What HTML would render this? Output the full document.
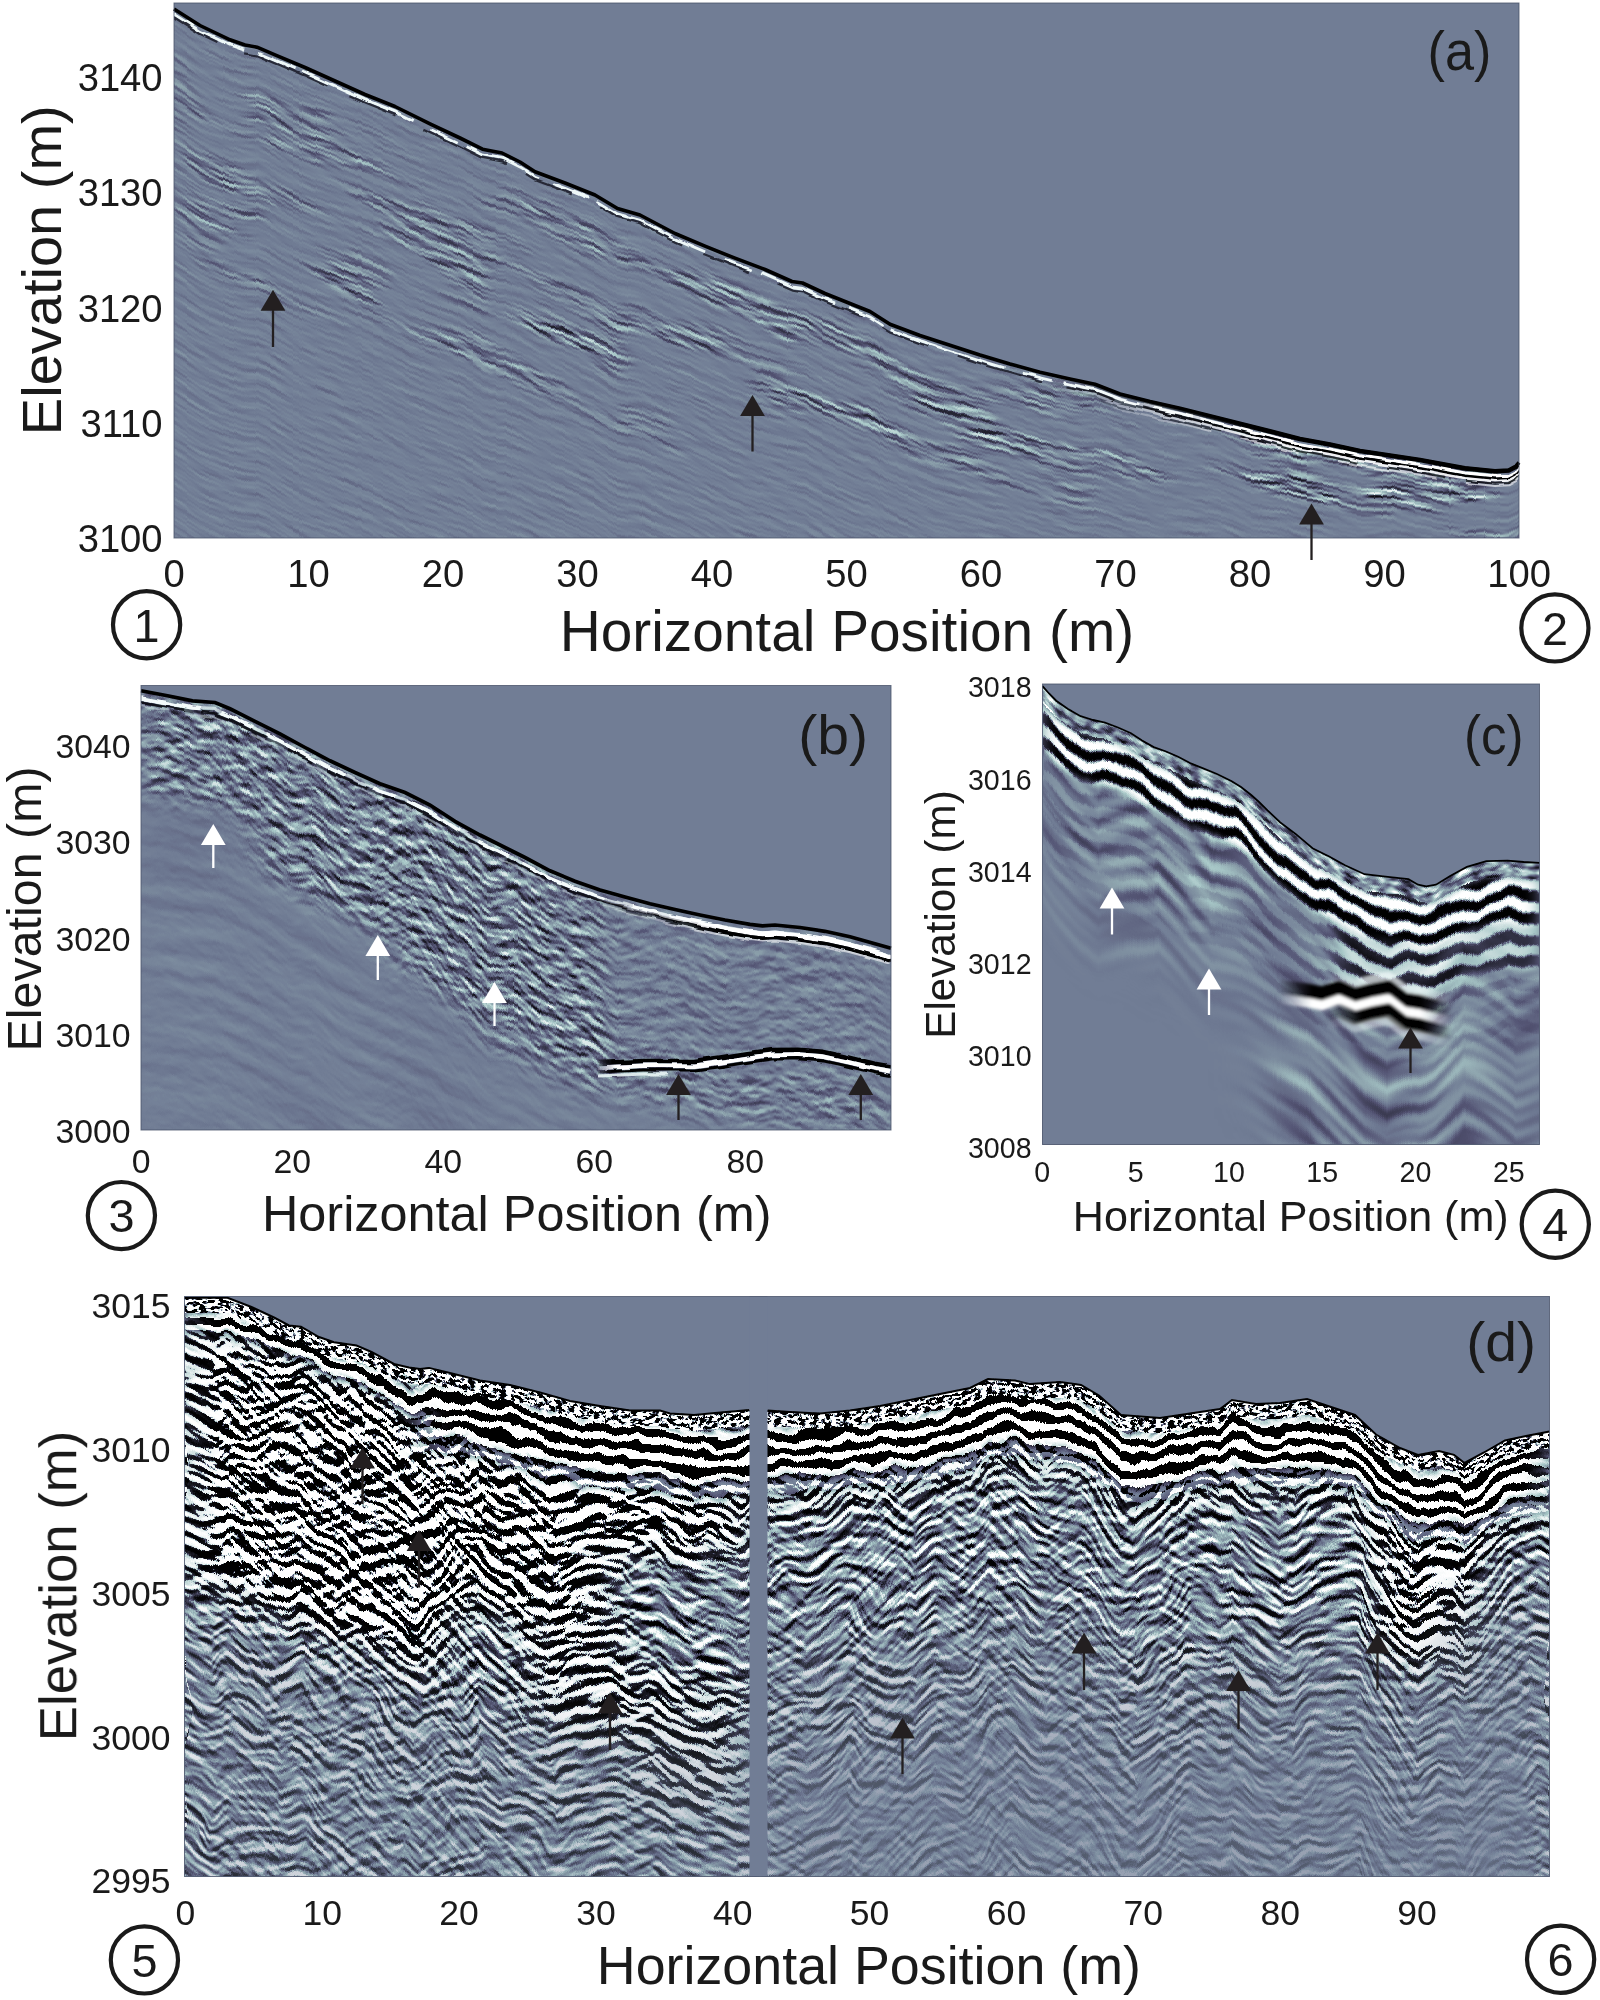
<!DOCTYPE html>
<html lang="en"><head><meta charset="utf-8"><title>GPR profiles</title>
<style>html,body{margin:0;padding:0;background:#fff}svg{display:block}text{font-family:"Liberation Sans",sans-serif;fill:#1a1a1a}</style></head><body>
<svg width="1600" height="2000" viewBox="0 0 1600 2000" role="img" aria-label="GPR profiles a-d">
<defs>
<filter id="wob" x="-2%" y="-20%" width="104%" height="140%" color-interpolation-filters="sRGB"><feTurbulence type="fractalNoise" baseFrequency="0.05 0.08" numOctaves="2" seed="2" result="n"/><feDisplacementMap in="SourceGraphic" in2="n" scale="5" xChannelSelector="R" yChannelSelector="G"/><feGaussianBlur stdDeviation="0.55"/></filter>
<linearGradient id="ga0" gradientUnits="userSpaceOnUse" x1="174.00" x2="580.25" y1="0" y2="0"><stop offset="0.00000" stop-color="rgb(131,250,36)"/><stop offset="0.06400" stop-color="rgb(87,222,72)"/><stop offset="0.08932" stop-color="rgb(70,214,86)"/><stop offset="0.13785" stop-color="rgb(133,199,113)"/><stop offset="0.17477" stop-color="rgb(182,190,133)"/><stop offset="0.20431" stop-color="rgb(221,187,150)"/><stop offset="0.22505" stop-color="rgb(248,181,162)"/><stop offset="0.24862" stop-color="rgb(187,174,175)"/><stop offset="0.27374" stop-color="rgb(122,167,189)"/><stop offset="0.30884" stop-color="rgb(31,157,164)"/><stop offset="0.32246" stop-color="rgb(45,153,155)"/><stop offset="0.39631" stop-color="rgb(123,131,103)"/><stop offset="0.45858" stop-color="rgb(188,112,59)"/><stop offset="0.47015" stop-color="rgb(172,109,51)"/><stop offset="0.50341" stop-color="rgb(126,100,28)"/><stop offset="0.54400" stop-color="rgb(69,89,70)"/><stop offset="0.57908" stop-color="rgb(21,78,106)"/><stop offset="0.63015" stop-color="rgb(106,61,159)"/><stop offset="0.67315" stop-color="rgb(177,47,204)"/><stop offset="0.70400" stop-color="rgb(228,37,182)"/><stop offset="0.70856" stop-color="rgb(236,36,179)"/><stop offset="0.75938" stop-color="rgb(136,19,144)"/><stop offset="0.80175" stop-color="rgb(53,13,115)"/><stop offset="0.80738" stop-color="rgb(64,13,111)"/><stop offset="0.82769" stop-color="rgb(103,6,97)"/><stop offset="0.85169" stop-color="rgb(149,0,80)"/><stop offset="0.88862" stop-color="rgb(219,0,55)"/><stop offset="0.88925" stop-color="rgb(220,0,54)"/><stop offset="0.96246" stop-color="rgb(146,0,4)"/><stop offset="0.96778" stop-color="rgb(140,0,0)"/><stop offset="1.00000" stop-color="rgb(107,0,46)"/></linearGradient>
<linearGradient id="ga1" gradientUnits="userSpaceOnUse" x1="440.25" x2="916.50" y1="0" y2="0"><stop offset="0.00000" stop-color="rgb(147,255,185)"/><stop offset="0.01516" stop-color="rgb(177,255,204)"/><stop offset="0.04147" stop-color="rgb(228,255,182)"/><stop offset="0.04536" stop-color="rgb(236,255,179)"/><stop offset="0.08871" stop-color="rgb(136,255,144)"/><stop offset="0.12485" stop-color="rgb(53,255,115)"/><stop offset="0.12966" stop-color="rgb(64,255,111)"/><stop offset="0.14698" stop-color="rgb(103,249,97)"/><stop offset="0.16745" stop-color="rgb(149,241,80)"/><stop offset="0.19895" stop-color="rgb(219,225,55)"/><stop offset="0.19949" stop-color="rgb(220,224,54)"/><stop offset="0.26194" stop-color="rgb(146,206,4)"/><stop offset="0.26648" stop-color="rgb(140,204,0)"/><stop offset="0.32493" stop-color="rgb(70,185,97)"/><stop offset="0.35643" stop-color="rgb(32,170,149)"/><stop offset="0.35947" stop-color="rgb(29,169,154)"/><stop offset="0.37218" stop-color="rgb(45,162,175)"/><stop offset="0.40775" stop-color="rgb(90,154,234)"/><stop offset="0.41942" stop-color="rgb(105,151,226)"/><stop offset="0.49291" stop-color="rgb(198,120,172)"/><stop offset="0.50375" stop-color="rgb(212,117,164)"/><stop offset="0.55591" stop-color="rgb(157,99,125)"/><stop offset="0.61890" stop-color="rgb(91,78,79)"/><stop offset="0.64507" stop-color="rgb(63,71,60)"/><stop offset="0.65354" stop-color="rgb(78,68,54)"/><stop offset="0.68189" stop-color="rgb(130,59,72)"/><stop offset="0.73858" stop-color="rgb(232,39,110)"/><stop offset="0.73863" stop-color="rgb(232,39,110)"/><stop offset="0.76063" stop-color="rgb(202,37,124)"/><stop offset="0.80787" stop-color="rgb(137,19,156)"/><stop offset="0.85302" stop-color="rgb(75,4,186)"/><stop offset="0.85651" stop-color="rgb(70,3,188)"/><stop offset="0.87087" stop-color="rgb(50,0,174)"/><stop offset="0.87781" stop-color="rgb(41,0,167)"/><stop offset="0.90236" stop-color="rgb(96,0,144)"/><stop offset="0.94436" stop-color="rgb(191,0,104)"/><stop offset="0.95001" stop-color="rgb(204,0,98)"/><stop offset="1.00000" stop-color="rgb(114,0,50)"/></linearGradient>
<linearGradient id="ga2" gradientUnits="userSpaceOnUse" x1="776.50" x2="1252.75" y1="0" y2="0"><stop offset="0.00000" stop-color="rgb(173,255,88)"/><stop offset="0.03255" stop-color="rgb(232,255,110)"/><stop offset="0.03259" stop-color="rgb(232,255,110)"/><stop offset="0.05459" stop-color="rgb(202,255,124)"/><stop offset="0.10184" stop-color="rgb(137,255,156)"/><stop offset="0.14698" stop-color="rgb(75,247,186)"/><stop offset="0.15048" stop-color="rgb(70,246,188)"/><stop offset="0.16483" stop-color="rgb(50,240,174)"/><stop offset="0.17178" stop-color="rgb(41,237,167)"/><stop offset="0.19633" stop-color="rgb(96,226,144)"/><stop offset="0.23832" stop-color="rgb(191,197,104)"/><stop offset="0.24398" stop-color="rgb(204,195,98)"/><stop offset="0.30131" stop-color="rgb(100,172,43)"/><stop offset="0.32257" stop-color="rgb(62,165,23)"/><stop offset="0.32900" stop-color="rgb(50,162,30)"/><stop offset="0.36430" stop-color="rgb(86,150,68)"/><stop offset="0.42730" stop-color="rgb(149,128,136)"/><stop offset="0.47698" stop-color="rgb(199,112,190)"/><stop offset="0.49029" stop-color="rgb(183,108,204)"/><stop offset="0.52291" stop-color="rgb(143,98,239)"/><stop offset="0.55328" stop-color="rgb(106,89,196)"/><stop offset="0.61627" stop-color="rgb(29,74,107)"/><stop offset="0.63304" stop-color="rgb(8,70,84)"/><stop offset="0.65982" stop-color="rgb(88,64,46)"/><stop offset="0.66877" stop-color="rgb(114,62,53)"/><stop offset="0.70178" stop-color="rgb(211,48,78)"/><stop offset="0.72126" stop-color="rgb(187,40,93)"/><stop offset="0.78425" stop-color="rgb(109,23,141)"/><stop offset="0.81640" stop-color="rgb(68,15,166)"/><stop offset="0.84724" stop-color="rgb(120,8,189)"/><stop offset="0.85302" stop-color="rgb(130,6,194)"/><stop offset="0.89466" stop-color="rgb(199,0,226)"/><stop offset="0.91024" stop-color="rgb(225,0,210)"/><stop offset="0.92398" stop-color="rgb(248,0,196)"/><stop offset="0.97323" stop-color="rgb(103,0,147)"/><stop offset="0.99873" stop-color="rgb(28,0,121)"/><stop offset="1.00000" stop-color="rgb(32,0,120)"/></linearGradient>
<linearGradient id="ga3" gradientUnits="userSpaceOnUse" x1="1112.75" x2="1519.00" y1="0" y2="0"><stop offset="0.00000" stop-color="rgb(206,255,81)"/><stop offset="0.01785" stop-color="rgb(187,255,93)"/><stop offset="0.09169" stop-color="rgb(109,255,141)"/><stop offset="0.12938" stop-color="rgb(68,255,166)"/><stop offset="0.16554" stop-color="rgb(120,247,189)"/><stop offset="0.17231" stop-color="rgb(130,245,194)"/><stop offset="0.22113" stop-color="rgb(199,226,226)"/><stop offset="0.23938" stop-color="rgb(225,219,210)"/><stop offset="0.25550" stop-color="rgb(248,213,196)"/><stop offset="0.31323" stop-color="rgb(103,191,147)"/><stop offset="0.34313" stop-color="rgb(28,180,121)"/><stop offset="0.38708" stop-color="rgb(126,163,83)"/><stop offset="0.43190" stop-color="rgb(225,145,45)"/><stop offset="0.43548" stop-color="rgb(222,144,42)"/><stop offset="0.46092" stop-color="rgb(199,134,58)"/><stop offset="0.53477" stop-color="rgb(131,113,104)"/><stop offset="0.60862" stop-color="rgb(63,89,150)"/><stop offset="0.61594" stop-color="rgb(56,87,155)"/><stop offset="0.69080" stop-color="rgb(191,70,201)"/><stop offset="0.72880" stop-color="rgb(158,61,225)"/><stop offset="0.75631" stop-color="rgb(134,55,187)"/><stop offset="0.83108" stop-color="rgb(69,34,82)"/><stop offset="0.86708" stop-color="rgb(133,24,31)"/><stop offset="0.87921" stop-color="rgb(155,22,14)"/><stop offset="0.91537" stop-color="rgb(220,17,51)"/><stop offset="0.94092" stop-color="rgb(195,13,77)"/><stop offset="0.97415" stop-color="rgb(163,16,111)"/><stop offset="0.99262" stop-color="rgb(146,31,130)"/><stop offset="1.00000" stop-color="rgb(139,44,138)"/></linearGradient>
<clipPath id="ca"><path d="M174.0 7.8 L200.0 24.3 L230.0 38.5 L245.0 43.8 L257.0 46.0 L275.0 53.5 L305.0 66.3 L335.0 79.8 L365.0 93.3 L395.0 105.3 L430.0 122.5 L460.0 136.8 L482.5 148.1 L502.0 151.8 L520.0 160.8 L535.0 170.6 L565.0 181.8 L595.0 193.8 L610.0 202.8 L617.5 207.3 L640.0 213.8 L675.0 232.3 L705.0 245.1 L735.0 257.1 L765.0 268.3 L792.0 280.3 L802.5 281.8 L825.0 292.3 L855.0 304.3 L870.0 310.3 L890.0 323.1 L920.0 334.3 L950.0 344.1 L980.0 353.8 L1010.0 362.8 L1040.0 371.1 L1070.0 377.8 L1095.0 383.1 L1120.0 392.8 L1150.0 400.3 L1180.0 407.1 L1210.0 414.6 L1240.0 422.1 L1270.0 429.6 L1300.0 437.3 L1330.0 442.8 L1360.0 449.3 L1420.0 458.3 L1465.0 466.6 L1495.0 469.6 L1508.5 468.8 L1516.0 464.8 L1519.0 461.3 L1519.0 538 L174.0 538 Z"/></clipPath><clipPath id="ca0"><rect x="174.00" y="3" width="336.25" height="535"/></clipPath><clipPath id="ca1"><rect x="510.25" y="3" width="336.25" height="535"/></clipPath><clipPath id="ca2"><rect x="846.50" y="3" width="336.25" height="535"/></clipPath><clipPath id="ca3"><rect x="1182.75" y="3" width="336.25" height="535"/></clipPath>
<filter id="fa0" filterUnits="userSpaceOnUse" primitiveUnits="userSpaceOnUse" x="174.00" y="160" width="406.25" height="679.2" color-interpolation-filters="sRGB"><feColorMatrix in="SourceGraphic" type="matrix" values="0 0 0 0 .5  1 0 0 0 0  0 0 1 0 0  0 0 0 0 1" result="mz"/><feColorMatrix in="SourceGraphic" type="matrix" values="0 0 0 0 .5  0 1 0 0 0  0 0 0 0 .5  0 0 0 0 1" result="mf"/><feTurbulence type="fractalNoise" baseFrequency="0.026 0.14" numOctaves="2" seed="4"/><feColorMatrix type="matrix" values="1 0 0 0 0 1 0 0 0 0 1 0 0 0 0 0 0 0 0 1" result="t2"/><feDisplacementMap in="t2" in2="mz" scale="7" xChannelSelector="R" yChannelSelector="G" result="z1"/><feConvolveMatrix in="z1" order="1 3" kernelMatrix="-2.4 0 2.4" divisor="1" bias="0.5" preserveAlpha="true" edgeMode="duplicate" result="gA0"/><feTurbulence type="fractalNoise" baseFrequency="0.008 0.03" numOctaves="2" seed="40"/><feColorMatrix type="matrix" values="0 0 0 0 1 0 0 0 0 1 0 0 0 0 1 5 0 0 0 -2.25" result="patch"/><feFlood flood-color="#fff" flood-opacity="0.45" x="174.0" y="269.0" width="500.0" height="195.0" result="mA_0"/><feFlood flood-color="#fff" flood-opacity="0.5" x="674.0" y="254.0" width="400.0" height="115.0" result="mA_1"/><feFlood flood-color="#fff" flood-opacity="0.7" x="1074.0" y="244.0" width="445.0" height="70.0" result="mA_2"/><feFlood flood-color="#fff" flood-opacity="0.5" x="1324.0" y="239.0" width="195.0" height="40.0" result="mA_3"/><feFlood flood-color="#fff" flood-opacity="0.8" x="200.0" y="461.4" width="60.0" height="18.0" result="mA_4"/><feFlood flood-color="#fff" flood-opacity="0.8" x="260.0" y="454.3" width="60.0" height="18.0" result="mA_5"/><feFlood flood-color="#fff" flood-opacity="0.8" x="320.0" y="438.4" width="60.0" height="18.0" result="mA_6"/><feFlood flood-color="#fff" flood-opacity="0.8" x="380.0" y="424.3" width="60.0" height="18.0" result="mA_7"/><feFlood flood-color="#fff" flood-opacity="0.8" x="440.0" y="405.3" width="60.0" height="18.0" result="mA_8"/><feFlood flood-color="#fff" flood-opacity="0.8" x="500.0" y="391.4" width="60.0" height="18.0" result="mA_9"/><feFlood flood-color="#fff" flood-opacity="0.8" x="560.0" y="380.2" width="60.0" height="18.0" result="mA_10"/><feFlood flood-color="#fff" flood-opacity="0.8" x="620.0" y="364.9" width="60.0" height="18.0" result="mA_11"/><feFlood flood-color="#fff" flood-opacity="0.8" x="680.0" y="352.5" width="60.0" height="18.0" result="mA_12"/><feFlood flood-color="#fff" flood-opacity="0.8" x="740.0" y="344.4" width="60.0" height="18.0" result="mA_13"/><feFlood flood-color="#fff" flood-opacity="0.8" x="800.0" y="333.7" width="60.0" height="18.0" result="mA_14"/><feFlood flood-color="#fff" flood-opacity="0.8" x="860.0" y="316.9" width="60.0" height="18.0" result="mA_15"/><feFlood flood-color="#fff" flood-opacity="0.8" x="920.0" y="305.4" width="60.0" height="18.0" result="mA_16"/><feFlood flood-color="#fff" flood-opacity="0.8" x="980.0" y="296.4" width="60.0" height="18.0" result="mA_17"/><feFlood flood-color="#fff" flood-opacity="0.8" x="1040.0" y="291.9" width="60.0" height="18.0" result="mA_18"/><feFlood flood-color="#fff" flood-opacity="0.8" x="1100.0" y="284.9" width="60.0" height="18.0" result="mA_19"/><feFlood flood-color="#fff" flood-opacity="0.8" x="1160.0" y="282.4" width="60.0" height="18.0" result="mA_20"/><feFlood flood-color="#fff" flood-opacity="0.8" x="1220.0" y="280.9" width="60.0" height="18.0" result="mA_21"/><feFlood flood-color="#fff" flood-opacity="0.8" x="1280.0" y="282.6" width="60.0" height="18.0" result="mA_22"/><feFlood flood-color="#fff" flood-opacity="0.8" x="1340.0" y="282.3" width="60.0" height="18.0" result="mA_23"/><feFlood flood-color="#fff" flood-opacity="0.8" x="1400.0" y="282.0" width="60.0" height="18.0" result="mA_24"/><feMerge x="174" y="-231" width="1345" height="1470.2" result="mA_m"><feMergeNode in="mA_0"/><feMergeNode in="mA_1"/><feMergeNode in="mA_2"/><feMergeNode in="mA_3"/><feMergeNode in="mA_4"/><feMergeNode in="mA_5"/><feMergeNode in="mA_6"/><feMergeNode in="mA_7"/><feMergeNode in="mA_8"/><feMergeNode in="mA_9"/><feMergeNode in="mA_10"/><feMergeNode in="mA_11"/><feMergeNode in="mA_12"/><feMergeNode in="mA_13"/><feMergeNode in="mA_14"/><feMergeNode in="mA_15"/><feMergeNode in="mA_16"/><feMergeNode in="mA_17"/><feMergeNode in="mA_18"/><feMergeNode in="mA_19"/><feMergeNode in="mA_20"/><feMergeNode in="mA_21"/><feMergeNode in="mA_22"/><feMergeNode in="mA_23"/><feMergeNode in="mA_24"/></feMerge><feGaussianBlur in="mA_m" stdDeviation="30 9" x="174" y="-231" width="1345" height="1470.2" result="mA"/><feComposite in="gA0" in2="mA" operator="in" result="gA1"/><feComposite in="gA1" in2="patch" operator="in" result="gA"/><feConvolveMatrix in="z1" order="1 3" kernelMatrix="-0.22 0 0.22" divisor="1" bias="0.506" preserveAlpha="true" edgeMode="duplicate" result="base"/><feMerge result="gray"><feMergeNode in="base"/><feMergeNode in="gA"/></feMerge><feComponentTransfer in="gray" result="all"><feFuncR type="table" tableValues="0 .109 .219 .328 .443 .547 .656 .828 1"/><feFuncG type="table" tableValues="0 .109 .219 .328 .490 .630 .781 .891 1"/><feFuncB type="table" tableValues="0 .151 .302 .453 .584 .672 .781 .891 1"/></feComponentTransfer><feDisplacementMap in="all" in2="mf" scale="155" xChannelSelector="R" yChannelSelector="G"/></filter>
<filter id="fa1" filterUnits="userSpaceOnUse" primitiveUnits="userSpaceOnUse" x="440.25" y="14" width="476.25" height="825.2" color-interpolation-filters="sRGB"><feColorMatrix in="SourceGraphic" type="matrix" values="0 0 0 0 .5  1 0 0 0 0  0 0 1 0 0  0 0 0 0 1" result="mz"/><feColorMatrix in="SourceGraphic" type="matrix" values="0 0 0 0 .5  0 1 0 0 0  0 0 0 0 .5  0 0 0 0 1" result="mf"/><feTurbulence type="fractalNoise" baseFrequency="0.026 0.14" numOctaves="2" seed="4"/><feColorMatrix type="matrix" values="1 0 0 0 0 1 0 0 0 0 1 0 0 0 0 0 0 0 0 1" result="t2"/><feDisplacementMap in="t2" in2="mz" scale="7" xChannelSelector="R" yChannelSelector="G" result="z1"/><feConvolveMatrix in="z1" order="1 3" kernelMatrix="-2.4 0 2.4" divisor="1" bias="0.5" preserveAlpha="true" edgeMode="duplicate" result="gA0"/><feTurbulence type="fractalNoise" baseFrequency="0.008 0.03" numOctaves="2" seed="40"/><feColorMatrix type="matrix" values="0 0 0 0 1 0 0 0 0 1 0 0 0 0 1 5 0 0 0 -2.25" result="patch"/><feFlood flood-color="#fff" flood-opacity="0.45" x="174.0" y="269.0" width="500.0" height="195.0" result="mA_0"/><feFlood flood-color="#fff" flood-opacity="0.5" x="674.0" y="254.0" width="400.0" height="115.0" result="mA_1"/><feFlood flood-color="#fff" flood-opacity="0.7" x="1074.0" y="244.0" width="445.0" height="70.0" result="mA_2"/><feFlood flood-color="#fff" flood-opacity="0.5" x="1324.0" y="239.0" width="195.0" height="40.0" result="mA_3"/><feFlood flood-color="#fff" flood-opacity="0.8" x="200.0" y="461.4" width="60.0" height="18.0" result="mA_4"/><feFlood flood-color="#fff" flood-opacity="0.8" x="260.0" y="454.3" width="60.0" height="18.0" result="mA_5"/><feFlood flood-color="#fff" flood-opacity="0.8" x="320.0" y="438.4" width="60.0" height="18.0" result="mA_6"/><feFlood flood-color="#fff" flood-opacity="0.8" x="380.0" y="424.3" width="60.0" height="18.0" result="mA_7"/><feFlood flood-color="#fff" flood-opacity="0.8" x="440.0" y="405.3" width="60.0" height="18.0" result="mA_8"/><feFlood flood-color="#fff" flood-opacity="0.8" x="500.0" y="391.4" width="60.0" height="18.0" result="mA_9"/><feFlood flood-color="#fff" flood-opacity="0.8" x="560.0" y="380.2" width="60.0" height="18.0" result="mA_10"/><feFlood flood-color="#fff" flood-opacity="0.8" x="620.0" y="364.9" width="60.0" height="18.0" result="mA_11"/><feFlood flood-color="#fff" flood-opacity="0.8" x="680.0" y="352.5" width="60.0" height="18.0" result="mA_12"/><feFlood flood-color="#fff" flood-opacity="0.8" x="740.0" y="344.4" width="60.0" height="18.0" result="mA_13"/><feFlood flood-color="#fff" flood-opacity="0.8" x="800.0" y="333.7" width="60.0" height="18.0" result="mA_14"/><feFlood flood-color="#fff" flood-opacity="0.8" x="860.0" y="316.9" width="60.0" height="18.0" result="mA_15"/><feFlood flood-color="#fff" flood-opacity="0.8" x="920.0" y="305.4" width="60.0" height="18.0" result="mA_16"/><feFlood flood-color="#fff" flood-opacity="0.8" x="980.0" y="296.4" width="60.0" height="18.0" result="mA_17"/><feFlood flood-color="#fff" flood-opacity="0.8" x="1040.0" y="291.9" width="60.0" height="18.0" result="mA_18"/><feFlood flood-color="#fff" flood-opacity="0.8" x="1100.0" y="284.9" width="60.0" height="18.0" result="mA_19"/><feFlood flood-color="#fff" flood-opacity="0.8" x="1160.0" y="282.4" width="60.0" height="18.0" result="mA_20"/><feFlood flood-color="#fff" flood-opacity="0.8" x="1220.0" y="280.9" width="60.0" height="18.0" result="mA_21"/><feFlood flood-color="#fff" flood-opacity="0.8" x="1280.0" y="282.6" width="60.0" height="18.0" result="mA_22"/><feFlood flood-color="#fff" flood-opacity="0.8" x="1340.0" y="282.3" width="60.0" height="18.0" result="mA_23"/><feFlood flood-color="#fff" flood-opacity="0.8" x="1400.0" y="282.0" width="60.0" height="18.0" result="mA_24"/><feMerge x="174" y="-231" width="1345" height="1470.2" result="mA_m"><feMergeNode in="mA_0"/><feMergeNode in="mA_1"/><feMergeNode in="mA_2"/><feMergeNode in="mA_3"/><feMergeNode in="mA_4"/><feMergeNode in="mA_5"/><feMergeNode in="mA_6"/><feMergeNode in="mA_7"/><feMergeNode in="mA_8"/><feMergeNode in="mA_9"/><feMergeNode in="mA_10"/><feMergeNode in="mA_11"/><feMergeNode in="mA_12"/><feMergeNode in="mA_13"/><feMergeNode in="mA_14"/><feMergeNode in="mA_15"/><feMergeNode in="mA_16"/><feMergeNode in="mA_17"/><feMergeNode in="mA_18"/><feMergeNode in="mA_19"/><feMergeNode in="mA_20"/><feMergeNode in="mA_21"/><feMergeNode in="mA_22"/><feMergeNode in="mA_23"/><feMergeNode in="mA_24"/></feMerge><feGaussianBlur in="mA_m" stdDeviation="30 9" x="174" y="-231" width="1345" height="1470.2" result="mA"/><feComposite in="gA0" in2="mA" operator="in" result="gA1"/><feComposite in="gA1" in2="patch" operator="in" result="gA"/><feConvolveMatrix in="z1" order="1 3" kernelMatrix="-0.22 0 0.22" divisor="1" bias="0.506" preserveAlpha="true" edgeMode="duplicate" result="base"/><feMerge result="gray"><feMergeNode in="base"/><feMergeNode in="gA"/></feMerge><feComponentTransfer in="gray" result="all"><feFuncR type="table" tableValues="0 .109 .219 .328 .443 .547 .656 .828 1"/><feFuncG type="table" tableValues="0 .109 .219 .328 .490 .630 .781 .891 1"/><feFuncB type="table" tableValues="0 .151 .302 .453 .584 .672 .781 .891 1"/></feComponentTransfer><feDisplacementMap in="all" in2="mf" scale="151" xChannelSelector="R" yChannelSelector="G"/></filter>
<filter id="fa2" filterUnits="userSpaceOnUse" primitiveUnits="userSpaceOnUse" x="776.50" y="-112" width="476.25" height="951.2" color-interpolation-filters="sRGB"><feColorMatrix in="SourceGraphic" type="matrix" values="0 0 0 0 .5  1 0 0 0 0  0 0 1 0 0  0 0 0 0 1" result="mz"/><feColorMatrix in="SourceGraphic" type="matrix" values="0 0 0 0 .5  0 1 0 0 0  0 0 0 0 .5  0 0 0 0 1" result="mf"/><feTurbulence type="fractalNoise" baseFrequency="0.026 0.14" numOctaves="2" seed="4"/><feColorMatrix type="matrix" values="1 0 0 0 0 1 0 0 0 0 1 0 0 0 0 0 0 0 0 1" result="t2"/><feDisplacementMap in="t2" in2="mz" scale="7" xChannelSelector="R" yChannelSelector="G" result="z1"/><feConvolveMatrix in="z1" order="1 3" kernelMatrix="-2.4 0 2.4" divisor="1" bias="0.5" preserveAlpha="true" edgeMode="duplicate" result="gA0"/><feTurbulence type="fractalNoise" baseFrequency="0.008 0.03" numOctaves="2" seed="40"/><feColorMatrix type="matrix" values="0 0 0 0 1 0 0 0 0 1 0 0 0 0 1 5 0 0 0 -2.25" result="patch"/><feFlood flood-color="#fff" flood-opacity="0.45" x="174.0" y="269.0" width="500.0" height="195.0" result="mA_0"/><feFlood flood-color="#fff" flood-opacity="0.5" x="674.0" y="254.0" width="400.0" height="115.0" result="mA_1"/><feFlood flood-color="#fff" flood-opacity="0.7" x="1074.0" y="244.0" width="445.0" height="70.0" result="mA_2"/><feFlood flood-color="#fff" flood-opacity="0.5" x="1324.0" y="239.0" width="195.0" height="40.0" result="mA_3"/><feFlood flood-color="#fff" flood-opacity="0.8" x="200.0" y="461.4" width="60.0" height="18.0" result="mA_4"/><feFlood flood-color="#fff" flood-opacity="0.8" x="260.0" y="454.3" width="60.0" height="18.0" result="mA_5"/><feFlood flood-color="#fff" flood-opacity="0.8" x="320.0" y="438.4" width="60.0" height="18.0" result="mA_6"/><feFlood flood-color="#fff" flood-opacity="0.8" x="380.0" y="424.3" width="60.0" height="18.0" result="mA_7"/><feFlood flood-color="#fff" flood-opacity="0.8" x="440.0" y="405.3" width="60.0" height="18.0" result="mA_8"/><feFlood flood-color="#fff" flood-opacity="0.8" x="500.0" y="391.4" width="60.0" height="18.0" result="mA_9"/><feFlood flood-color="#fff" flood-opacity="0.8" x="560.0" y="380.2" width="60.0" height="18.0" result="mA_10"/><feFlood flood-color="#fff" flood-opacity="0.8" x="620.0" y="364.9" width="60.0" height="18.0" result="mA_11"/><feFlood flood-color="#fff" flood-opacity="0.8" x="680.0" y="352.5" width="60.0" height="18.0" result="mA_12"/><feFlood flood-color="#fff" flood-opacity="0.8" x="740.0" y="344.4" width="60.0" height="18.0" result="mA_13"/><feFlood flood-color="#fff" flood-opacity="0.8" x="800.0" y="333.7" width="60.0" height="18.0" result="mA_14"/><feFlood flood-color="#fff" flood-opacity="0.8" x="860.0" y="316.9" width="60.0" height="18.0" result="mA_15"/><feFlood flood-color="#fff" flood-opacity="0.8" x="920.0" y="305.4" width="60.0" height="18.0" result="mA_16"/><feFlood flood-color="#fff" flood-opacity="0.8" x="980.0" y="296.4" width="60.0" height="18.0" result="mA_17"/><feFlood flood-color="#fff" flood-opacity="0.8" x="1040.0" y="291.9" width="60.0" height="18.0" result="mA_18"/><feFlood flood-color="#fff" flood-opacity="0.8" x="1100.0" y="284.9" width="60.0" height="18.0" result="mA_19"/><feFlood flood-color="#fff" flood-opacity="0.8" x="1160.0" y="282.4" width="60.0" height="18.0" result="mA_20"/><feFlood flood-color="#fff" flood-opacity="0.8" x="1220.0" y="280.9" width="60.0" height="18.0" result="mA_21"/><feFlood flood-color="#fff" flood-opacity="0.8" x="1280.0" y="282.6" width="60.0" height="18.0" result="mA_22"/><feFlood flood-color="#fff" flood-opacity="0.8" x="1340.0" y="282.3" width="60.0" height="18.0" result="mA_23"/><feFlood flood-color="#fff" flood-opacity="0.8" x="1400.0" y="282.0" width="60.0" height="18.0" result="mA_24"/><feMerge x="174" y="-231" width="1345" height="1470.2" result="mA_m"><feMergeNode in="mA_0"/><feMergeNode in="mA_1"/><feMergeNode in="mA_2"/><feMergeNode in="mA_3"/><feMergeNode in="mA_4"/><feMergeNode in="mA_5"/><feMergeNode in="mA_6"/><feMergeNode in="mA_7"/><feMergeNode in="mA_8"/><feMergeNode in="mA_9"/><feMergeNode in="mA_10"/><feMergeNode in="mA_11"/><feMergeNode in="mA_12"/><feMergeNode in="mA_13"/><feMergeNode in="mA_14"/><feMergeNode in="mA_15"/><feMergeNode in="mA_16"/><feMergeNode in="mA_17"/><feMergeNode in="mA_18"/><feMergeNode in="mA_19"/><feMergeNode in="mA_20"/><feMergeNode in="mA_21"/><feMergeNode in="mA_22"/><feMergeNode in="mA_23"/><feMergeNode in="mA_24"/></feMerge><feGaussianBlur in="mA_m" stdDeviation="30 9" x="174" y="-231" width="1345" height="1470.2" result="mA"/><feComposite in="gA0" in2="mA" operator="in" result="gA1"/><feComposite in="gA1" in2="patch" operator="in" result="gA"/><feConvolveMatrix in="z1" order="1 3" kernelMatrix="-0.22 0 0.22" divisor="1" bias="0.506" preserveAlpha="true" edgeMode="duplicate" result="base"/><feMerge result="gray"><feMergeNode in="base"/><feMergeNode in="gA"/></feMerge><feComponentTransfer in="gray" result="all"><feFuncR type="table" tableValues="0 .109 .219 .328 .443 .547 .656 .828 1"/><feFuncG type="table" tableValues="0 .109 .219 .328 .490 .630 .781 .891 1"/><feFuncB type="table" tableValues="0 .151 .302 .453 .584 .672 .781 .891 1"/></feComponentTransfer><feDisplacementMap in="all" in2="mf" scale="113" xChannelSelector="R" yChannelSelector="G"/></filter>
<filter id="fa3" filterUnits="userSpaceOnUse" primitiveUnits="userSpaceOnUse" x="1112.75" y="-197" width="406.25" height="1036.2" color-interpolation-filters="sRGB"><feColorMatrix in="SourceGraphic" type="matrix" values="0 0 0 0 .5  1 0 0 0 0  0 0 1 0 0  0 0 0 0 1" result="mz"/><feColorMatrix in="SourceGraphic" type="matrix" values="0 0 0 0 .5  0 1 0 0 0  0 0 0 0 .5  0 0 0 0 1" result="mf"/><feTurbulence type="fractalNoise" baseFrequency="0.026 0.14" numOctaves="2" seed="4"/><feColorMatrix type="matrix" values="1 0 0 0 0 1 0 0 0 0 1 0 0 0 0 0 0 0 0 1" result="t2"/><feDisplacementMap in="t2" in2="mz" scale="7" xChannelSelector="R" yChannelSelector="G" result="z1"/><feConvolveMatrix in="z1" order="1 3" kernelMatrix="-2.4 0 2.4" divisor="1" bias="0.5" preserveAlpha="true" edgeMode="duplicate" result="gA0"/><feTurbulence type="fractalNoise" baseFrequency="0.008 0.03" numOctaves="2" seed="40"/><feColorMatrix type="matrix" values="0 0 0 0 1 0 0 0 0 1 0 0 0 0 1 5 0 0 0 -2.25" result="patch"/><feFlood flood-color="#fff" flood-opacity="0.45" x="174.0" y="269.0" width="500.0" height="195.0" result="mA_0"/><feFlood flood-color="#fff" flood-opacity="0.5" x="674.0" y="254.0" width="400.0" height="115.0" result="mA_1"/><feFlood flood-color="#fff" flood-opacity="0.7" x="1074.0" y="244.0" width="445.0" height="70.0" result="mA_2"/><feFlood flood-color="#fff" flood-opacity="0.5" x="1324.0" y="239.0" width="195.0" height="40.0" result="mA_3"/><feFlood flood-color="#fff" flood-opacity="0.8" x="200.0" y="461.4" width="60.0" height="18.0" result="mA_4"/><feFlood flood-color="#fff" flood-opacity="0.8" x="260.0" y="454.3" width="60.0" height="18.0" result="mA_5"/><feFlood flood-color="#fff" flood-opacity="0.8" x="320.0" y="438.4" width="60.0" height="18.0" result="mA_6"/><feFlood flood-color="#fff" flood-opacity="0.8" x="380.0" y="424.3" width="60.0" height="18.0" result="mA_7"/><feFlood flood-color="#fff" flood-opacity="0.8" x="440.0" y="405.3" width="60.0" height="18.0" result="mA_8"/><feFlood flood-color="#fff" flood-opacity="0.8" x="500.0" y="391.4" width="60.0" height="18.0" result="mA_9"/><feFlood flood-color="#fff" flood-opacity="0.8" x="560.0" y="380.2" width="60.0" height="18.0" result="mA_10"/><feFlood flood-color="#fff" flood-opacity="0.8" x="620.0" y="364.9" width="60.0" height="18.0" result="mA_11"/><feFlood flood-color="#fff" flood-opacity="0.8" x="680.0" y="352.5" width="60.0" height="18.0" result="mA_12"/><feFlood flood-color="#fff" flood-opacity="0.8" x="740.0" y="344.4" width="60.0" height="18.0" result="mA_13"/><feFlood flood-color="#fff" flood-opacity="0.8" x="800.0" y="333.7" width="60.0" height="18.0" result="mA_14"/><feFlood flood-color="#fff" flood-opacity="0.8" x="860.0" y="316.9" width="60.0" height="18.0" result="mA_15"/><feFlood flood-color="#fff" flood-opacity="0.8" x="920.0" y="305.4" width="60.0" height="18.0" result="mA_16"/><feFlood flood-color="#fff" flood-opacity="0.8" x="980.0" y="296.4" width="60.0" height="18.0" result="mA_17"/><feFlood flood-color="#fff" flood-opacity="0.8" x="1040.0" y="291.9" width="60.0" height="18.0" result="mA_18"/><feFlood flood-color="#fff" flood-opacity="0.8" x="1100.0" y="284.9" width="60.0" height="18.0" result="mA_19"/><feFlood flood-color="#fff" flood-opacity="0.8" x="1160.0" y="282.4" width="60.0" height="18.0" result="mA_20"/><feFlood flood-color="#fff" flood-opacity="0.8" x="1220.0" y="280.9" width="60.0" height="18.0" result="mA_21"/><feFlood flood-color="#fff" flood-opacity="0.8" x="1280.0" y="282.6" width="60.0" height="18.0" result="mA_22"/><feFlood flood-color="#fff" flood-opacity="0.8" x="1340.0" y="282.3" width="60.0" height="18.0" result="mA_23"/><feFlood flood-color="#fff" flood-opacity="0.8" x="1400.0" y="282.0" width="60.0" height="18.0" result="mA_24"/><feMerge x="174" y="-231" width="1345" height="1470.2" result="mA_m"><feMergeNode in="mA_0"/><feMergeNode in="mA_1"/><feMergeNode in="mA_2"/><feMergeNode in="mA_3"/><feMergeNode in="mA_4"/><feMergeNode in="mA_5"/><feMergeNode in="mA_6"/><feMergeNode in="mA_7"/><feMergeNode in="mA_8"/><feMergeNode in="mA_9"/><feMergeNode in="mA_10"/><feMergeNode in="mA_11"/><feMergeNode in="mA_12"/><feMergeNode in="mA_13"/><feMergeNode in="mA_14"/><feMergeNode in="mA_15"/><feMergeNode in="mA_16"/><feMergeNode in="mA_17"/><feMergeNode in="mA_18"/><feMergeNode in="mA_19"/><feMergeNode in="mA_20"/><feMergeNode in="mA_21"/><feMergeNode in="mA_22"/><feMergeNode in="mA_23"/><feMergeNode in="mA_24"/></feMerge><feGaussianBlur in="mA_m" stdDeviation="30 9" x="174" y="-231" width="1345" height="1470.2" result="mA"/><feComposite in="gA0" in2="mA" operator="in" result="gA1"/><feComposite in="gA1" in2="patch" operator="in" result="gA"/><feConvolveMatrix in="z1" order="1 3" kernelMatrix="-0.22 0 0.22" divisor="1" bias="0.506" preserveAlpha="true" edgeMode="duplicate" result="base"/><feMerge result="gray"><feMergeNode in="base"/><feMergeNode in="gA"/></feMerge><feComponentTransfer in="gray" result="all"><feFuncR type="table" tableValues="0 .109 .219 .328 .443 .547 .656 .828 1"/><feFuncG type="table" tableValues="0 .109 .219 .328 .490 .630 .781 .891 1"/><feFuncB type="table" tableValues="0 .151 .302 .453 .584 .672 .781 .891 1"/></feComponentTransfer><feDisplacementMap in="all" in2="mf" scale="68" xChannelSelector="R" yChannelSelector="G"/></filter>
<linearGradient id="ak" gradientUnits="userSpaceOnUse" x1="1040" x2="1260" y1="0" y2="0"><stop offset="0" stop-color="#000" stop-opacity="0"/><stop offset="1" stop-color="#000"/></linearGradient>
<linearGradient id="aw" gradientUnits="userSpaceOnUse" x1="1040" x2="1260" y1="0" y2="0"><stop offset="0" stop-color="#fff" stop-opacity="0"/><stop offset="1" stop-color="#fff"/></linearGradient>
<linearGradient id="gb0" gradientUnits="userSpaceOnUse" x1="141.00" x2="586.00" y1="0" y2="0"><stop offset="0.00000" stop-color="rgb(158,250,121)"/><stop offset="0.04208" stop-color="rgb(237,245,156)"/><stop offset="0.05955" stop-color="rgb(212,243,171)"/><stop offset="0.10511" stop-color="rgb(146,237,209)"/><stop offset="0.11573" stop-color="rgb(131,235,192)"/><stop offset="0.15957" stop-color="rgb(68,233,123)"/><stop offset="0.16629" stop-color="rgb(83,233,112)"/><stop offset="0.20000" stop-color="rgb(159,223,60)"/><stop offset="0.22983" stop-color="rgb(226,213,13)"/><stop offset="0.24113" stop-color="rgb(251,210,28)"/><stop offset="0.25618" stop-color="rgb(213,204,48)"/><stop offset="0.31236" stop-color="rgb(70,186,124)"/><stop offset="0.33712" stop-color="rgb(7,176,158)"/><stop offset="0.36854" stop-color="rgb(130,165,200)"/><stop offset="0.37373" stop-color="rgb(150,163,207)"/><stop offset="0.39097" stop-color="rgb(218,157,185)"/><stop offset="0.42472" stop-color="rgb(120,145,141)"/><stop offset="0.45530" stop-color="rgb(32,135,101)"/><stop offset="0.48090" stop-color="rgb(76,127,68)"/><stop offset="0.51769" stop-color="rgb(138,116,21)"/><stop offset="0.53708" stop-color="rgb(172,110,68)"/><stop offset="0.54539" stop-color="rgb(186,108,88)"/><stop offset="0.59326" stop-color="rgb(81,97,203)"/><stop offset="0.60738" stop-color="rgb(51,92,237)"/><stop offset="0.61398" stop-color="rgb(61,90,253)"/><stop offset="0.64944" stop-color="rgb(118,78,163)"/><stop offset="0.70562" stop-color="rgb(208,54,20)"/><stop offset="0.70644" stop-color="rgb(210,53,18)"/><stop offset="0.72440" stop-color="rgb(239,47,34)"/><stop offset="0.76180" stop-color="rgb(93,33,68)"/><stop offset="0.78189" stop-color="rgb(14,26,86)"/><stop offset="0.81798" stop-color="rgb(152,14,119)"/><stop offset="0.83775" stop-color="rgb(228,7,137)"/><stop offset="0.84270" stop-color="rgb(214,6,142)"/><stop offset="0.86292" stop-color="rgb(156,0,160)"/><stop offset="0.89125" stop-color="rgb(74,0,186)"/><stop offset="0.89266" stop-color="rgb(70,0,185)"/><stop offset="0.91910" stop-color="rgb(100,0,164)"/><stop offset="0.97528" stop-color="rgb(164,0,119)"/><stop offset="1.00000" stop-color="rgb(193,0,100)"/></linearGradient>
<linearGradient id="gb1" gradientUnits="userSpaceOnUse" x1="446.00" x2="891.00" y1="0" y2="0"><stop offset="0.00000" stop-color="rgb(176,255,71)"/><stop offset="0.02022" stop-color="rgb(208,255,20)"/><stop offset="0.02104" stop-color="rgb(210,255,18)"/><stop offset="0.03900" stop-color="rgb(239,255,34)"/><stop offset="0.07640" stop-color="rgb(93,255,68)"/><stop offset="0.09650" stop-color="rgb(14,255,86)"/><stop offset="0.13258" stop-color="rgb(152,255,119)"/><stop offset="0.15236" stop-color="rgb(228,248,137)"/><stop offset="0.15730" stop-color="rgb(214,246,142)"/><stop offset="0.17753" stop-color="rgb(156,234,160)"/><stop offset="0.20586" stop-color="rgb(74,218,186)"/><stop offset="0.20727" stop-color="rgb(70,217,185)"/><stop offset="0.23371" stop-color="rgb(100,201,164)"/><stop offset="0.28989" stop-color="rgb(164,175,119)"/><stop offset="0.32075" stop-color="rgb(200,163,95)"/><stop offset="0.34607" stop-color="rgb(118,153,75)"/><stop offset="0.38264" stop-color="rgb(1,142,46)"/><stop offset="0.38426" stop-color="rgb(4,141,44)"/><stop offset="0.40225" stop-color="rgb(36,136,61)"/><stop offset="0.45843" stop-color="rgb(137,119,112)"/><stop offset="0.49620" stop-color="rgb(205,109,146)"/><stop offset="0.51461" stop-color="rgb(179,104,163)"/><stop offset="0.53915" stop-color="rgb(144,98,186)"/><stop offset="0.57079" stop-color="rgb(98,91,143)"/><stop offset="0.61677" stop-color="rgb(32,80,81)"/><stop offset="0.62697" stop-color="rgb(50,78,67)"/><stop offset="0.63429" stop-color="rgb(62,77,57)"/><stop offset="0.68315" stop-color="rgb(145,68,92)"/><stop offset="0.71124" stop-color="rgb(193,64,113)"/><stop offset="0.71502" stop-color="rgb(199,64,115)"/><stop offset="0.73933" stop-color="rgb(163,66,133)"/><stop offset="0.79551" stop-color="rgb(79,59,173)"/><stop offset="0.83150" stop-color="rgb(25,53,199)"/><stop offset="0.83398" stop-color="rgb(22,53,196)"/><stop offset="0.85169" stop-color="rgb(55,50,176)"/><stop offset="0.90787" stop-color="rgb(160,36,114)"/><stop offset="0.95494" stop-color="rgb(248,22,62)"/><stop offset="0.96404" stop-color="rgb(221,19,52)"/><stop offset="1.00000" stop-color="rgb(114,8,12)"/></linearGradient>
<clipPath id="cb"><path d="M141.0 689.5 L167.5 694.5 L192.5 699.5 L215.0 701.2 L230.0 707.5 L255.0 720.0 L280.0 732.5 L305.0 746.2 L330.0 759.5 L355.0 771.2 L380.0 782.5 L405.0 791.2 L430.0 803.8 L455.0 820.0 L480.0 833.8 L505.0 846.2 L525.0 856.2 L550.0 869.5 L575.0 880.0 L600.0 888.8 L625.0 895.8 L650.0 902.5 L675.0 908.2 L700.0 913.8 L725.0 918.8 L750.0 923.0 L762.5 924.5 L775.0 923.8 L800.0 926.2 L825.0 930.0 L850.0 935.5 L875.0 942.5 L891.0 947.0 L891.0 1130 L141.0 1130 Z"/></clipPath><clipPath id="cb0"><rect x="141.00" y="685.5" width="375.00" height="444.5"/></clipPath><clipPath id="cb1"><rect x="516.00" y="685.5" width="375.00" height="444.5"/></clipPath>
<filter id="fb0" filterUnits="userSpaceOnUse" primitiveUnits="userSpaceOnUse" x="141.00" y="732.5" width="445.00" height="596.0" color-interpolation-filters="sRGB"><feColorMatrix in="SourceGraphic" type="matrix" values="0 0 0 0 .5  1 0 0 0 0  0 0 1 0 0  0 0 0 0 1" result="mz"/><feColorMatrix in="SourceGraphic" type="matrix" values="0 0 0 0 .5  0 1 0 0 0  0 0 0 0 .5  0 0 0 0 1" result="mf"/><feTurbulence type="fractalNoise" baseFrequency="0.05 0.10" numOctaves="2" seed="2"/><feColorMatrix type="matrix" values="1 0 0 0 0 1 0 0 0 0 1 0 0 0 0 0 0 0 0 1" result="t2"/><feDisplacementMap in="t2" in2="mz" scale="12" xChannelSelector="R" yChannelSelector="G" result="z1"/><feTurbulence type="fractalNoise" baseFrequency="0.045 0.09" numOctaves="2" seed="7"/><feColorMatrix type="matrix" values="1 0 0 0 0 1 0 0 0 0 1 0 0 0 0 0 0 0 0 1" result="t2b"/><feDisplacementMap in="t2b" in2="mz" scale="36" xChannelSelector="R" yChannelSelector="B" result="z2"/><feComposite in="z1" in2="z2" operator="arithmetic" k1="0" k2="0.65" k3="0.45" k4="-0.05" result="zz"/><feConvolveMatrix in="zz" order="1 3" kernelMatrix="-3.8 0 3.8" divisor="1" bias="0.5" preserveAlpha="true" edgeMode="duplicate" result="gA0"/><feFlood flood-color="#fff" flood-opacity="0.045" x="141.0" y="818.0" width="750.0" height="460.0" result="mA_0"/><feFlood flood-color="#fff" flood-opacity="0.8" x="141.0" y="818.0" width="120.0" height="100.0" result="mA_1"/><feFlood flood-color="#fff" flood-opacity="0.8" x="261.0" y="818.0" width="140.0" height="145.0" result="mA_2"/><feFlood flood-color="#fff" flood-opacity="0.8" x="401.0" y="818.0" width="195.0" height="180.0" result="mA_3"/><feFlood flood-color="#fff" flood-opacity="0.45" x="471.0" y="908.0" width="140.0" height="115.0" result="mA_4"/><feFlood flood-color="#fff" flood-opacity="0.2" x="596.0" y="818.0" width="295.0" height="200.0" result="mA_5"/><feFlood flood-color="#fff" flood-opacity="0.25" x="581.0" y="968.0" width="310.0" height="50.0" result="mA_6"/><feMerge x="141" y="348" width="750" height="1380.5" result="mA_m"><feMergeNode in="mA_0"/><feMergeNode in="mA_1"/><feMergeNode in="mA_2"/><feMergeNode in="mA_3"/><feMergeNode in="mA_4"/><feMergeNode in="mA_5"/><feMergeNode in="mA_6"/></feMerge><feGaussianBlur in="mA_m" stdDeviation="18 12" x="141" y="348" width="750" height="1380.5" result="mA"/><feComposite in="gA0" in2="mA" operator="in" result="gA"/><feTurbulence type="fractalNoise" baseFrequency="0.008 0.085" numOctaves="1" seed="31"/><feColorMatrix type="matrix" values="0.14 0 0 0 0.434 0.14 0 0 0 0.434 0.14 0 0 0 0.434 0 0 0 0 1" result="gR"/><feFlood flood-color="#818181" result="base"/><feMerge result="gray"><feMergeNode in="gR"/><feMergeNode in="gA"/></feMerge><feComponentTransfer in="gray" result="all"><feFuncR type="table" tableValues="0 .109 .219 .328 .443 .547 .656 .828 1"/><feFuncG type="table" tableValues="0 .109 .219 .328 .490 .630 .781 .891 1"/><feFuncB type="table" tableValues="0 .151 .302 .453 .584 .672 .781 .891 1"/></feComponentTransfer><feDisplacementMap in="all" in2="mf" scale="169" xChannelSelector="R" yChannelSelector="G"/></filter>
<filter id="fb1" filterUnits="userSpaceOnUse" primitiveUnits="userSpaceOnUse" x="446.00" y="604.5" width="445.00" height="724.0" color-interpolation-filters="sRGB"><feColorMatrix in="SourceGraphic" type="matrix" values="0 0 0 0 .5  1 0 0 0 0  0 0 1 0 0  0 0 0 0 1" result="mz"/><feColorMatrix in="SourceGraphic" type="matrix" values="0 0 0 0 .5  0 1 0 0 0  0 0 0 0 .5  0 0 0 0 1" result="mf"/><feTurbulence type="fractalNoise" baseFrequency="0.05 0.10" numOctaves="2" seed="2"/><feColorMatrix type="matrix" values="1 0 0 0 0 1 0 0 0 0 1 0 0 0 0 0 0 0 0 1" result="t2"/><feDisplacementMap in="t2" in2="mz" scale="12" xChannelSelector="R" yChannelSelector="G" result="z1"/><feTurbulence type="fractalNoise" baseFrequency="0.045 0.09" numOctaves="2" seed="7"/><feColorMatrix type="matrix" values="1 0 0 0 0 1 0 0 0 0 1 0 0 0 0 0 0 0 0 1" result="t2b"/><feDisplacementMap in="t2b" in2="mz" scale="36" xChannelSelector="R" yChannelSelector="B" result="z2"/><feComposite in="z1" in2="z2" operator="arithmetic" k1="0" k2="0.65" k3="0.45" k4="-0.05" result="zz"/><feConvolveMatrix in="zz" order="1 3" kernelMatrix="-3.8 0 3.8" divisor="1" bias="0.5" preserveAlpha="true" edgeMode="duplicate" result="gA0"/><feFlood flood-color="#fff" flood-opacity="0.045" x="141.0" y="818.0" width="750.0" height="460.0" result="mA_0"/><feFlood flood-color="#fff" flood-opacity="0.8" x="141.0" y="818.0" width="120.0" height="100.0" result="mA_1"/><feFlood flood-color="#fff" flood-opacity="0.8" x="261.0" y="818.0" width="140.0" height="145.0" result="mA_2"/><feFlood flood-color="#fff" flood-opacity="0.8" x="401.0" y="818.0" width="195.0" height="180.0" result="mA_3"/><feFlood flood-color="#fff" flood-opacity="0.45" x="471.0" y="908.0" width="140.0" height="115.0" result="mA_4"/><feFlood flood-color="#fff" flood-opacity="0.2" x="596.0" y="818.0" width="295.0" height="200.0" result="mA_5"/><feFlood flood-color="#fff" flood-opacity="0.25" x="581.0" y="968.0" width="310.0" height="50.0" result="mA_6"/><feMerge x="141" y="348" width="750" height="1380.5" result="mA_m"><feMergeNode in="mA_0"/><feMergeNode in="mA_1"/><feMergeNode in="mA_2"/><feMergeNode in="mA_3"/><feMergeNode in="mA_4"/><feMergeNode in="mA_5"/><feMergeNode in="mA_6"/></feMerge><feGaussianBlur in="mA_m" stdDeviation="18 12" x="141" y="348" width="750" height="1380.5" result="mA"/><feComposite in="gA0" in2="mA" operator="in" result="gA"/><feTurbulence type="fractalNoise" baseFrequency="0.008 0.085" numOctaves="1" seed="31"/><feColorMatrix type="matrix" values="0.14 0 0 0 0.434 0.14 0 0 0 0.434 0.14 0 0 0 0.434 0 0 0 0 1" result="gR"/><feFlood flood-color="#818181" result="base"/><feMerge result="gray"><feMergeNode in="gR"/><feMergeNode in="gA"/></feMerge><feComponentTransfer in="gray" result="all"><feFuncR type="table" tableValues="0 .109 .219 .328 .443 .547 .656 .828 1"/><feFuncG type="table" tableValues="0 .109 .219 .328 .490 .630 .781 .891 1"/><feFuncB type="table" tableValues="0 .151 .302 .453 .584 .672 .781 .891 1"/></feComponentTransfer><feDisplacementMap in="all" in2="mf" scale="102" xChannelSelector="R" yChannelSelector="G"/></filter>
<linearGradient id="bk" gradientUnits="userSpaceOnUse" x1="590" x2="720" y1="0" y2="0"><stop offset="0" stop-color="#000" stop-opacity="0"/><stop offset="1" stop-color="#000"/></linearGradient>
<linearGradient id="bw" gradientUnits="userSpaceOnUse" x1="590" x2="720" y1="0" y2="0"><stop offset="0" stop-color="#fff" stop-opacity="0"/><stop offset="1" stop-color="#fff"/></linearGradient>
<linearGradient id="rk" gradientUnits="userSpaceOnUse" x1="594" x2="612" y1="0" y2="0"><stop offset="0" stop-color="#000" stop-opacity="0"/><stop offset="1" stop-color="#000"/></linearGradient>
<linearGradient id="rw" gradientUnits="userSpaceOnUse" x1="594" x2="616" y1="0" y2="0"><stop offset="0" stop-color="#fff" stop-opacity="0"/><stop offset="1" stop-color="#fff"/></linearGradient>
<linearGradient id="gc0" gradientUnits="userSpaceOnUse" x1="1042.50" x2="1539.50" y1="0" y2="0"><stop offset="0.00000" stop-color="rgb(165,251,164)"/><stop offset="0.00823" stop-color="rgb(186,245,154)"/><stop offset="0.01308" stop-color="rgb(178,242,148)"/><stop offset="0.02757" stop-color="rgb(153,233,131)"/><stop offset="0.05131" stop-color="rgb(114,223,102)"/><stop offset="0.07666" stop-color="rgb(71,214,71)"/><stop offset="0.08869" stop-color="rgb(51,212,57)"/><stop offset="0.10161" stop-color="rgb(73,209,41)"/><stop offset="0.11343" stop-color="rgb(92,208,27)"/><stop offset="0.12575" stop-color="rgb(113,206,48)"/><stop offset="0.15191" stop-color="rgb(157,200,93)"/><stop offset="0.17807" stop-color="rgb(201,193,138)"/><stop offset="0.19721" stop-color="rgb(233,185,171)"/><stop offset="0.20020" stop-color="rgb(227,184,176)"/><stop offset="0.22374" stop-color="rgb(177,176,216)"/><stop offset="0.23377" stop-color="rgb(155,174,234)"/><stop offset="0.24849" stop-color="rgb(124,171,210)"/><stop offset="0.27284" stop-color="rgb(72,164,170)"/><stop offset="0.29227" stop-color="rgb(31,158,138)"/><stop offset="0.29678" stop-color="rgb(38,156,130)"/><stop offset="0.32193" stop-color="rgb(80,150,89)"/><stop offset="0.34058" stop-color="rgb(111,145,58)"/><stop offset="0.35111" stop-color="rgb(129,143,66)"/><stop offset="0.38068" stop-color="rgb(178,134,89)"/><stop offset="0.39119" stop-color="rgb(195,130,97)"/><stop offset="0.39940" stop-color="rgb(182,127,104)"/><stop offset="0.41992" stop-color="rgb(149,117,120)"/><stop offset="0.43561" stop-color="rgb(124,108,132)"/><stop offset="0.45272" stop-color="rgb(96,98,145)"/><stop offset="0.47586" stop-color="rgb(59,85,163)"/><stop offset="0.47787" stop-color="rgb(61,84,165)"/><stop offset="0.51046" stop-color="rgb(98,68,190)"/><stop offset="0.53966" stop-color="rgb(131,53,213)"/><stop offset="0.54326" stop-color="rgb(135,51,209)"/><stop offset="0.57586" stop-color="rgb(172,42,169)"/><stop offset="0.59053" stop-color="rgb(189,37,151)"/><stop offset="0.60865" stop-color="rgb(168,31,129)"/><stop offset="0.64789" stop-color="rgb(124,19,81)"/><stop offset="0.69034" stop-color="rgb(75,17,29)"/><stop offset="0.69082" stop-color="rgb(75,16,28)"/><stop offset="0.69959" stop-color="rgb(65,16,39)"/><stop offset="0.73622" stop-color="rgb(117,13,81)"/><stop offset="0.75573" stop-color="rgb(145,7,104)"/><stop offset="0.77203" stop-color="rgb(168,4,123)"/><stop offset="0.79175" stop-color="rgb(197,7,145)"/><stop offset="0.80016" stop-color="rgb(209,10,155)"/><stop offset="0.82113" stop-color="rgb(158,17,180)"/><stop offset="0.84898" stop-color="rgb(91,27,212)"/><stop offset="0.85392" stop-color="rgb(80,28,203)"/><stop offset="0.88255" stop-color="rgb(11,34,150)"/><stop offset="0.89316" stop-color="rgb(44,35,130)"/><stop offset="0.93561" stop-color="rgb(175,36,52)"/><stop offset="0.94008" stop-color="rgb(189,36,44)"/><stop offset="0.95327" stop-color="rgb(171,35,19)"/><stop offset="0.96821" stop-color="rgb(151,34,35)"/><stop offset="1.00000" stop-color="rgb(109,34,70)"/></linearGradient>
<clipPath id="cc"><path d="M1042.5 685.6 L1049.0 693.0 L1056.2 700.2 L1068.0 708.5 L1080.6 715.7 L1093.0 719.5 L1105.0 722.2 L1118.0 727.0 L1131.0 732.7 L1142.0 740.0 L1153.7 746.6 L1166.0 751.0 L1178.1 756.3 L1190.0 762.5 L1202.5 767.7 L1217.0 773.5 L1231.7 780.7 L1241.0 786.5 L1251.2 794.5 L1259.0 801.5 L1267.5 809.9 L1280.0 821.7 L1296.2 833.9 L1312.5 847.7 L1328.7 855.8 L1345.0 864.7 L1364.5 873.7 L1385.6 876.1 L1408.4 878.6 L1418.1 884.2 L1426.2 885.9 L1436.0 884.2 L1450.6 875.3 L1466.9 866.4 L1486.4 860.7 L1507.5 860.2 L1523.7 861.5 L1539.5 862.3 L1539.5 1144.5 L1042.5 1144.5 Z"/></clipPath>
<filter id="fc0" filterUnits="userSpaceOnUse" primitiveUnits="userSpaceOnUse" x="1042.50" y="684" width="497.00" height="630.9000000000001" color-interpolation-filters="sRGB"><feColorMatrix in="SourceGraphic" type="matrix" values="0 0 0 0 .5  1 0 0 0 0  0 0 1 0 0  0 0 0 0 1" result="mz"/><feColorMatrix in="SourceGraphic" type="matrix" values="0 0 0 0 .5  0 1 0 0 0  0 0 0 0 .5  0 0 0 0 1" result="mf"/><feTurbulence type="fractalNoise" baseFrequency="0.012 0.075" numOctaves="1" seed="3"/><feColorMatrix type="matrix" values="1 0 0 0 0 1 0 0 0 0 1 0 0 0 0 0 0 0 0 1" result="t2"/><feDisplacementMap in="t2" in2="mz" scale="50" xChannelSelector="R" yChannelSelector="B" result="z2"/><feColorMatrix in="z2" type="matrix" values="1.7 0 0 0 -0.335 1.7 0 0 0 -0.335 1.7 0 0 0 -0.335 0 0 0 0 1" result="gA0"/><feFlood flood-color="#fff" flood-opacity="0.55" x="1042.5" y="786.0" width="497.0" height="150.0" result="mA_0"/><feFlood flood-color="#fff" flood-opacity="0.5" x="1272.5" y="936.0" width="267.0" height="180.0" result="mA_1"/><feFlood flood-color="#fff" flood-opacity="0.2" x="1042.5" y="936.0" width="230.0" height="80.0" result="mA_2"/><feMerge x="1042.5" y="316" width="497.0" height="1398.9" result="mA_m"><feMergeNode in="mA_0"/><feMergeNode in="mA_1"/><feMergeNode in="mA_2"/></feMerge><feGaussianBlur in="mA_m" stdDeviation="28 24" x="1042.5" y="316" width="497.0" height="1398.9" result="mA"/><feComposite in="gA0" in2="mA" operator="in" result="gA"/><feFlood flood-color="#fff" flood-opacity="1" x="1042.5" y="804.0" width="497.0" height="22.5" result="stw"/><feFlood flood-color="#000" flood-opacity="1" x="1042.5" y="815.0" width="497.0" height="11.5" result="stb"/><feMerge x="1042.5" y="804.0" width="497.0" height="22.5" result="stt"><feMergeNode in="stw"/><feMergeNode in="stb"/></feMerge><feTile in="stt" x="1042.5" y="316" width="497.0" height="1398.9" result="st"/><feGaussianBlur in="st" stdDeviation="0 1.0" result="stb"/><feDisplacementMap in="stb" in2="mz" scale="16" xChannelSelector="R" yChannelSelector="G" result="stz"/><feTurbulence type="fractalNoise" baseFrequency="0.03 0.015" numOctaves="2" seed="21" result="w1"/><feDisplacementMap in="stz" in2="w1" scale="16" xChannelSelector="R" yChannelSelector="G" result="stw"/><feFlood flood-color="#fff" flood-opacity="1" x="1042.5" y="803.0" width="497.0" height="45.5" result="mC_0"/><feFlood flood-color="#fff" flood-opacity="0.14" x="1042.5" y="848.5" width="497.0" height="23.5" result="mC_1"/><feFlood flood-color="#fff" flood-opacity="0.12" x="1042.5" y="872.0" width="497.0" height="46.0" result="mC_2"/><feFlood flood-color="#fff" flood-opacity="0.06" x="1042.5" y="918.0" width="497.0" height="48.0" result="mC_3"/><feFlood flood-color="#fff" flood-opacity="0.55" x="1342.5" y="848.5" width="197.0" height="45.5" result="mC_4"/><feFlood flood-color="#fff" flood-opacity="0.3" x="1332.5" y="848.5" width="120.0" height="62.5" result="mC_5"/><feMerge x="1042.5" y="316" width="497.0" height="1398.9" result="mC_m"><feMergeNode in="mC_0"/><feMergeNode in="mC_1"/><feMergeNode in="mC_2"/><feMergeNode in="mC_3"/><feMergeNode in="mC_4"/><feMergeNode in="mC_5"/></feMerge><feGaussianBlur in="mC_m" stdDeviation="8 3" x="1042.5" y="316" width="497.0" height="1398.9" result="mC"/><feComposite in="stw" in2="mC" operator="in" result="gC"/><feTurbulence type="fractalNoise" baseFrequency="0.07 0.16" numOctaves="2" seed="8"/><feColorMatrix type="matrix" values="1.5 0 0 0 -0.19 1.5 0 0 0 -0.19 1.5 0 0 0 -0.19 0 0 0 0 1" result="g3"/><feFlood flood-color="#fff" flood-opacity="1" x="1042.5" y="783.0" width="497.0" height="20.0" result="sz"/><feComposite in="g3" in2="sz" operator="in" result="gD"/><feFlood flood-color="#808080" result="base"/><feMerge result="gray"><feMergeNode in="base"/><feMergeNode in="gA"/><feMergeNode in="gC"/><feMergeNode in="gD"/></feMerge><feComponentTransfer in="gray" result="all"><feFuncR type="table" tableValues="0 .109 .219 .328 .443 .547 .656 .828 1"/><feFuncG type="table" tableValues="0 .109 .219 .328 .490 .630 .781 .891 1"/><feFuncB type="table" tableValues="0 .151 .302 .453 .584 .672 .781 .891 1"/></feComponentTransfer><feDisplacementMap in="all" in2="mf" scale="207" xChannelSelector="R" yChannelSelector="G"/></filter>
<linearGradient id="ck1" gradientUnits="userSpaceOnUse" x1="1278" x2="1452" y1="0" y2="0"><stop offset="0" stop-color="#000" stop-opacity="0"/><stop offset="0.195" stop-color="#000"/><stop offset="0.816" stop-color="#000"/><stop offset="1" stop-color="#000" stop-opacity="0"/></linearGradient>
<linearGradient id="cw1" gradientUnits="userSpaceOnUse" x1="1278" x2="1452" y1="0" y2="0"><stop offset="0" stop-color="#fff" stop-opacity="0"/><stop offset="0.195" stop-color="#fff"/><stop offset="0.816" stop-color="#fff"/><stop offset="1" stop-color="#fff" stop-opacity="0"/></linearGradient>
<linearGradient id="ck2" gradientUnits="userSpaceOnUse" x1="1326" x2="1452" y1="0" y2="0"><stop offset="0" stop-color="#000" stop-opacity="0"/><stop offset="0.286" stop-color="#000"/><stop offset="0.762" stop-color="#000"/><stop offset="1" stop-color="#000" stop-opacity="0"/></linearGradient>
<linearGradient id="cw2" gradientUnits="userSpaceOnUse" x1="1326" x2="1452" y1="0" y2="0"><stop offset="0" stop-color="#f2fafa" stop-opacity="0"/><stop offset="0.310" stop-color="#f2fafa"/><stop offset="0.746" stop-color="#f2fafa"/><stop offset="1" stop-color="#f2fafa" stop-opacity="0"/></linearGradient>
<filter id="soft" x="-5%" y="-40%" width="110%" height="180%"><feGaussianBlur stdDeviation="1.7"/></filter>
<linearGradient id="gd0" gradientUnits="userSpaceOnUse" x1="184.50" x2="1549.50" y1="0" y2="0"><stop offset="0.00000" stop-color="rgb(140,250,177)"/><stop offset="0.02323" stop-color="rgb(65,250,138)"/><stop offset="0.03150" stop-color="rgb(91,250,124)"/><stop offset="0.04908" stop-color="rgb(144,236,95)"/><stop offset="0.06557" stop-color="rgb(195,221,67)"/><stop offset="0.07069" stop-color="rgb(210,215,59)"/><stop offset="0.07656" stop-color="rgb(228,209,71)"/><stop offset="0.08340" stop-color="rgb(249,208,85)"/><stop offset="0.08535" stop-color="rgb(244,207,88)"/><stop offset="0.09853" stop-color="rgb(207,192,115)"/><stop offset="0.10952" stop-color="rgb(176,184,137)"/><stop offset="0.12601" stop-color="rgb(131,179,171)"/><stop offset="0.13700" stop-color="rgb(100,170,193)"/><stop offset="0.15348" stop-color="rgb(54,152,226)"/><stop offset="0.16121" stop-color="rgb(32,148,242)"/><stop offset="0.16447" stop-color="rgb(23,147,234)"/><stop offset="0.16694" stop-color="rgb(16,146,227)"/><stop offset="0.17253" stop-color="rgb(40,144,213)"/><stop offset="0.17912" stop-color="rgb(67,146,197)"/><stop offset="0.19451" stop-color="rgb(131,139,158)"/><stop offset="0.21648" stop-color="rgb(222,128,103)"/><stop offset="0.21658" stop-color="rgb(223,127,102)"/><stop offset="0.23063" stop-color="rgb(179,123,67)"/><stop offset="0.23846" stop-color="rgb(154,121,76)"/><stop offset="0.26044" stop-color="rgb(86,110,102)"/><stop offset="0.26942" stop-color="rgb(58,105,113)"/><stop offset="0.28242" stop-color="rgb(101,97,128)"/><stop offset="0.30440" stop-color="rgb(174,90,154)"/><stop offset="0.31228" stop-color="rgb(200,87,163)"/><stop offset="0.32637" stop-color="rgb(171,83,180)"/><stop offset="0.34703" stop-color="rgb(128,83,205)"/><stop offset="0.34835" stop-color="rgb(125,83,203)"/><stop offset="0.35568" stop-color="rgb(110,79,191)"/><stop offset="0.37326" stop-color="rgb(74,76,164)"/><stop offset="0.38864" stop-color="rgb(42,79,141)"/><stop offset="0.40326" stop-color="rgb(12,82,118)"/><stop offset="0.41392" stop-color="rgb(41,84,102)"/><stop offset="0.42711" stop-color="rgb(77,83,82)"/><stop offset="0.44359" stop-color="rgb(122,81,56)"/><stop offset="0.45605" stop-color="rgb(156,80,37)"/><stop offset="0.46557" stop-color="rgb(182,79,59)"/><stop offset="0.48717" stop-color="rgb(241,83,109)"/><stop offset="0.48755" stop-color="rgb(240,83,110)"/><stop offset="0.50952" stop-color="rgb(151,90,162)"/><stop offset="0.53150" stop-color="rgb(63,99,213)"/><stop offset="0.53514" stop-color="rgb(48,100,221)"/><stop offset="0.54961" stop-color="rgb(85,106,255)"/><stop offset="0.55348" stop-color="rgb(95,107,245)"/><stop offset="0.57546" stop-color="rgb(152,116,187)"/><stop offset="0.58864" stop-color="rgb(185,130,153)"/><stop offset="0.60842" stop-color="rgb(236,128,101)"/><stop offset="0.60851" stop-color="rgb(236,127,101)"/><stop offset="0.61941" stop-color="rgb(208,122,72)"/><stop offset="0.63131" stop-color="rgb(176,124,41)"/><stop offset="0.64139" stop-color="rgb(150,125,64)"/><stop offset="0.65678" stop-color="rgb(109,121,99)"/><stop offset="0.66996" stop-color="rgb(75,105,130)"/><stop offset="0.68608" stop-color="rgb(32,76,166)"/><stop offset="0.69523" stop-color="rgb(8,75,187)"/><stop offset="0.71358" stop-color="rgb(105,72,229)"/><stop offset="0.71465" stop-color="rgb(110,72,227)"/><stop offset="0.73663" stop-color="rgb(226,79,181)"/><stop offset="0.73695" stop-color="rgb(227,79,180)"/><stop offset="0.75861" stop-color="rgb(172,85,135)"/><stop offset="0.76740" stop-color="rgb(150,99,117)"/><stop offset="0.78498" stop-color="rgb(106,93,80)"/><stop offset="0.80178" stop-color="rgb(63,94,45)"/><stop offset="0.80256" stop-color="rgb(61,94,46)"/><stop offset="0.81294" stop-color="rgb(35,97,60)"/><stop offset="0.82234" stop-color="rgb(71,100,72)"/><stop offset="0.83773" stop-color="rgb(131,90,91)"/><stop offset="0.85751" stop-color="rgb(208,76,117)"/><stop offset="0.85999" stop-color="rgb(218,72,120)"/><stop offset="0.87289" stop-color="rgb(152,47,137)"/><stop offset="0.89048" stop-color="rgb(63,27,159)"/><stop offset="0.90186" stop-color="rgb(5,19,174)"/><stop offset="0.90366" stop-color="rgb(9,17,176)"/><stop offset="0.91905" stop-color="rgb(48,23,196)"/><stop offset="0.92790" stop-color="rgb(70,18,207)"/><stop offset="0.93004" stop-color="rgb(75,17,204)"/><stop offset="0.93773" stop-color="rgb(94,5,190)"/><stop offset="0.95201" stop-color="rgb(130,21,164)"/><stop offset="0.96740" stop-color="rgb(169,39,136)"/><stop offset="0.98278" stop-color="rgb(207,45,108)"/><stop offset="0.98921" stop-color="rgb(223,48,96)"/><stop offset="1.00000" stop-color="rgb(180,52,77)"/></linearGradient>
<clipPath id="cd"><path d="M184.5 1297.2 L227.5 1297.2 L251.5 1306.5 L274.0 1317.0 L289.0 1325.0 L301.0 1326.3 L319.0 1336.5 L334.0 1341.8 L356.5 1345.0 L371.5 1351.5 L394.0 1363.5 L409.0 1367.0 L420.0 1368.6 L429.0 1367.4 L450.0 1372.5 L480.0 1380.0 L510.0 1384.5 L540.0 1392.0 L570.0 1400.4 L600.0 1405.5 L630.0 1410.0 L660.0 1410.0 L670.0 1413.0 L694.0 1414.5 L715.0 1412.4 L749.5 1409.4 L767.5 1410.0 L790.0 1411.5 L820.0 1413.0 L850.0 1410.0 L880.0 1405.5 L910.0 1399.5 L940.0 1393.5 L970.0 1387.5 L988.0 1378.5 L1015.0 1380.0 L1030.0 1383.6 L1060.0 1381.5 L1081.0 1384.5 L1099.0 1395.0 L1121.0 1414.5 L1160.0 1417.5 L1190.0 1413.0 L1220.0 1408.5 L1232.0 1399.5 L1256.0 1403.4 L1280.0 1402.5 L1307.0 1398.6 L1328.0 1405.5 L1355.0 1414.5 L1376.0 1434.0 L1400.0 1447.5 L1418.0 1454.4 L1439.0 1450.5 L1454.0 1454.4 L1464.5 1462.5 L1484.0 1452.0 L1505.0 1440.0 L1526.0 1435.5 L1549.5 1431.0 L1549.5 1876.5 L184.5 1876.5 Z"/></clipPath>
<filter id="fd0" filterUnits="userSpaceOnUse" primitiveUnits="userSpaceOnUse" x="184.50" y="1296.5" width="1365.00" height="732.8" color-interpolation-filters="sRGB"><feColorMatrix in="SourceGraphic" type="matrix" values="0 0 0 0 .5  1 0 0 0 0  0 0 1 0 0  0 0 0 0 1" result="mz"/><feColorMatrix in="SourceGraphic" type="matrix" values="0 0 0 0 .5  0 1 0 0 0  0 0 0 0 .5  0 0 0 0 1" result="mf"/><feTurbulence type="fractalNoise" baseFrequency="0.028 0.105" numOctaves="2" seed="5"/><feColorMatrix type="matrix" values="1 0 0 0 0 1 0 0 0 0 1 0 0 0 0 0 0 0 0 1" result="t2"/><feTurbulence type="fractalNoise" baseFrequency="0.03 0.115" numOctaves="2" seed="15"/><feColorMatrix type="matrix" values="1 0 0 0 0 1 0 0 0 0 1 0 0 0 0 0 0 0 0 1" result="t2b"/><feTurbulence type="fractalNoise" baseFrequency="0.02 0.012" numOctaves="2" seed="11" result="w"/><feDisplacementMap in="t2" in2="mz" scale="55" xChannelSelector="R" yChannelSelector="G" result="z1a"/><feDisplacementMap in="z1a" in2="w" scale="36" xChannelSelector="R" yChannelSelector="G" result="z1"/><feDisplacementMap in="t2b" in2="mz" scale="120" xChannelSelector="R" yChannelSelector="B" result="z2"/><feComposite in="z1" in2="z2" operator="arithmetic" k1="0" k2="0.7" k3="0.45" k4="-0.075" result="zz0"/><feConvolveMatrix in="zz0" order="1 5" kernelMatrix="-2.3 0 0 0 2.3" divisor="1" bias="0.5" preserveAlpha="true" edgeMode="duplicate" result="zz"/><feColorMatrix in="zz" type="matrix" values="1 0 0 0 0.035 1 0 0 0 0.035 1 0 0 0 0.035 0 0 0 0 1" result="gA"/><feColorMatrix in="zz" type="matrix" values="1.35 0 0 0 -0.135 1.35 0 0 0 -0.135 1.35 0 0 0 -0.135 0 0 0 0 1" result="gM0"/><feColorMatrix in="zz" type="matrix" values="10 0 0 0 -4.43 10 0 0 0 -4.43 10 0 0 0 -4.43 0 0 0 0 1" result="gB0"/><feFlood flood-color="#fff" flood-opacity="0.9" x="184.5" y="1430.0" width="565.0" height="380.0" result="mM_0"/><feFlood flood-color="#fff" flood-opacity="0.6" x="767.5" y="1430.0" width="782.0" height="180.0" result="mM_1"/><feFlood flood-color="#fff" flood-opacity="0.75" x="784.5" y="1650.0" width="160.0" height="110.0" result="mM_2"/><feFlood flood-color="#fff" flood-opacity="0.8" x="1144.5" y="1600.0" width="160.0" height="90.0" result="mM_3"/><feMerge x="184.5" y="910" width="1365.0" height="1519.3" result="mM_m"><feMergeNode in="mM_0"/><feMergeNode in="mM_1"/><feMergeNode in="mM_2"/><feMergeNode in="mM_3"/></feMerge><feGaussianBlur in="mM_m" stdDeviation="30 26" x="184.5" y="910" width="1365.0" height="1519.3" result="mM"/><feComposite in="gM0" in2="mM" operator="in" result="gM"/><feFlood flood-color="#fff" flood-opacity="1" x="184.5" y="1406.0" width="270.0" height="274.0" result="mB_0"/><feFlood flood-color="#fff" flood-opacity="1" x="434.5" y="1430.0" width="170.0" height="185.0" result="mB_1"/><feFlood flood-color="#fff" flood-opacity="1" x="604.5" y="1430.0" width="145.0" height="100.0" result="mB_2"/><feFlood flood-color="#fff" flood-opacity="0.8" x="514.5" y="1580.0" width="120.0" height="130.0" result="mB_3"/><feFlood flood-color="#fff" flood-opacity="0.7" x="634.5" y="1640.0" width="110.0" height="140.0" result="mB_4"/><feFlood flood-color="#fff" flood-opacity="1" x="767.5" y="1430.0" width="782.0" height="46.0" result="mB_5"/><feFlood flood-color="#fff" flood-opacity="1" x="1369.5" y="1470.0" width="105.0" height="125.0" result="mB_6"/><feFlood flood-color="#fff" flood-opacity="0.7" x="1224.5" y="1630.0" width="30.0" height="35.0" result="mB_7"/><feMerge x="184.5" y="910" width="1365.0" height="1519.3" result="mB_m"><feMergeNode in="mB_0"/><feMergeNode in="mB_1"/><feMergeNode in="mB_2"/><feMergeNode in="mB_3"/><feMergeNode in="mB_4"/><feMergeNode in="mB_5"/><feMergeNode in="mB_6"/><feMergeNode in="mB_7"/></feMerge><feGaussianBlur in="mB_m" stdDeviation="22 16" x="184.5" y="910" width="1365.0" height="1519.3" result="mB"/><feComposite in="gB0" in2="mB" operator="in" result="gB"/><feFlood flood-color="#fff" flood-opacity="1" x="184.5" y="1385.0" width="1365.0" height="15.4" result="stw"/><feFlood flood-color="#000" flood-opacity="1" x="184.5" y="1385.0" width="1365.0" height="7.3" result="stb"/><feMerge x="184.5" y="1385.0" width="1365.0" height="15.4" result="stt"><feMergeNode in="stw"/><feMergeNode in="stb"/></feMerge><feTile in="stt" x="184.5" y="910" width="1365.0" height="1519.3" result="st"/><feFlood flood-color="#fff" flood-opacity="1" x="424.5" y="1394.0" width="1125.0" height="52.0" result="mC_0"/><feFlood flood-color="#fff" flood-opacity="0.45" x="424.5" y="1446.0" width="1125.0" height="16.0" result="mC_1"/><feFlood flood-color="#fff" flood-opacity="1" x="184.5" y="1394.0" width="240.0" height="23.0" result="mC_2"/><feMerge x="184.5" y="910" width="1365.0" height="1519.3" result="mC_m"><feMergeNode in="mC_0"/><feMergeNode in="mC_1"/><feMergeNode in="mC_2"/></feMerge><feGaussianBlur in="mC_m" stdDeviation="14 3" x="184.5" y="910" width="1365.0" height="1519.3" result="mC"/><feComposite in="st" in2="mC" operator="in" result="stm"/><feTurbulence type="fractalNoise" baseFrequency="0.04 0.03" numOctaves="2" seed="21" result="w1"/><feDisplacementMap in="stm" in2="mz" scale="12" xChannelSelector="R" yChannelSelector="G" result="stz"/><feDisplacementMap in="stz" in2="w1" scale="18" xChannelSelector="R" yChannelSelector="G" result="gC"/><feTurbulence type="fractalNoise" baseFrequency="0.16 0.30" numOctaves="2" seed="8" result="t3"/><feColorMatrix in="t3" type="matrix" values="14 0 0 0 -6.32 14 0 0 0 -6.32 14 0 0 0 -6.32 0 0 0 0 1" result="g3"/><feFlood flood-color="#fff" flood-opacity="1" x="184.5" y="1377.0" width="1365.0" height="19.0" result="sz"/><feComposite in="g3" in2="sz" operator="in" result="gD"/><feMerge result="gray0"><feMergeNode in="gA"/><feMergeNode in="gM"/><feMergeNode in="gB"/><feMergeNode in="gC"/><feMergeNode in="gD"/></feMerge><feGaussianBlur in="gray0" stdDeviation="0.6" result="gray"/><feComponentTransfer in="gray" result="col"><feFuncR type="table" tableValues="0 .109 .219 .328 .443 .547 .656 .828 1"/><feFuncG type="table" tableValues="0 .109 .219 .328 .490 .630 .781 .891 1"/><feFuncB type="table" tableValues="0 .151 .302 .453 .584 .672 .781 .891 1"/></feComponentTransfer><feFlood flood-color="#fff" flood-opacity="0.35" x="184.5" y="1710.0" width="1365.0" height="470.0" result="fd_0"/><feFlood flood-color="#fff" flood-opacity="0.4" x="767.5" y="1620.0" width="782.0" height="560.0" result="fd_1"/><feFlood flood-color="#fff" flood-opacity="0.3" x="767.5" y="1740.0" width="782.0" height="440.0" result="fd_2"/><feFlood flood-color="#fff" flood-opacity="0.45" x="1444.5" y="1550.0" width="105.0" height="630.0" result="fd_3"/><feMerge x="184.5" y="910" width="1365.0" height="1519.3" result="fd_m"><feMergeNode in="fd_0"/><feMergeNode in="fd_1"/><feMergeNode in="fd_2"/><feMergeNode in="fd_3"/></feMerge><feGaussianBlur in="fd_m" stdDeviation="30 28" x="184.5" y="910" width="1365.0" height="1519.3" result="fd"/><feFlood flood-color="#717d95" result="midc"/><feComposite in="midc" in2="fd" operator="in" result="fade"/><feMerge result="all"><feMergeNode in="col"/><feMergeNode in="fade"/></feMerge><feDisplacementMap in="all" in2="mf" scale="172" xChannelSelector="R" yChannelSelector="G"/></filter>
</defs>
<rect width="1600" height="2000" fill="#fff"/>
<rect x="174" y="3" width="1345" height="535" fill="#717d95"/>
<g clip-path="url(#ca)"><g clip-path="url(#ca0)"><rect x="174.00" y="160" width="406.25" height="679.2" transform="translate(0 -157)" fill="url(#ga0)" filter="url(#fa0)"/></g><g clip-path="url(#ca1)"><rect x="440.25" y="14" width="476.25" height="825.2" transform="translate(0 -11)" fill="url(#ga1)" filter="url(#fa1)"/></g><g clip-path="url(#ca2)"><rect x="776.50" y="-112" width="476.25" height="951.2" transform="translate(0 115)" fill="url(#ga2)" filter="url(#fa2)"/></g><g clip-path="url(#ca3)"><rect x="1112.75" y="-197" width="406.25" height="1036.2" transform="translate(0 200)" fill="url(#ga3)" filter="url(#fa3)"/></g></g>
<g clip-path="url(#ca)"><g fill="none" filter="url(#wob)">
<path d="M174.0 14.4 L200.0 30.9 L230.0 45.1 L245.0 50.4 L257.0 52.6 L275.0 60.1 L305.0 72.9 L335.0 86.4 L365.0 99.9 L395.0 111.9 L430.0 129.2 L460.0 143.4 L482.5 154.7 L502.0 158.4 L520.0 167.4 L535.0 177.2 L565.0 188.4 L595.0 200.4 L610.0 209.4 L617.5 213.9 L640.0 220.4 L675.0 238.9 L705.0 251.7 L735.0 263.7 L765.0 274.9 L792.0 286.9 L802.5 288.4 L825.0 298.9 L855.0 310.9 L870.0 316.9 L890.0 329.7 L920.0 340.9 L950.0 350.7 L980.0 360.4 L1010.0 369.4 L1040.0 377.7 L1070.0 384.4 L1095.0 389.7 L1120.0 399.4 L1150.0 406.9 L1180.0 413.7 L1210.0 421.2 L1240.0 428.7 L1270.0 436.2 L1300.0 443.9 L1330.0 449.4 L1360.0 455.9 L1420.0 464.9 L1465.0 473.2 L1495.0 476.2 L1508.5 475.4 L1516.0 471.4 L1519.0 467.9" stroke="#eef8f8" stroke-width="2.8" stroke-dasharray="80 14 40 8 120 20 30 10"/>
<path d="M174.0 17.3 L200.0 33.8 L230.0 48.0 L245.0 53.3 L257.0 55.5 L275.0 63.0 L305.0 75.8 L335.0 89.3 L365.0 102.8 L395.0 114.8 L430.0 132.1 L460.0 146.3 L482.5 157.6 L502.0 161.3 L520.0 170.3 L535.0 180.1 L565.0 191.3 L595.0 203.3 L610.0 212.3 L617.5 216.8 L640.0 223.3 L675.0 241.8 L705.0 254.6 L735.0 266.6 L765.0 277.8 L792.0 289.8 L802.5 291.3 L825.0 301.8 L855.0 313.8 L870.0 319.8 L890.0 332.6 L920.0 343.8 L950.0 353.6 L980.0 363.3 L1010.0 372.3 L1040.0 380.6 L1070.0 387.3 L1095.0 392.6 L1120.0 402.3 L1150.0 409.8 L1180.0 416.6 L1210.0 424.1 L1240.0 431.6 L1270.0 439.1 L1300.0 446.8 L1330.0 452.3 L1360.0 458.8 L1420.0 467.8 L1465.0 476.1 L1495.0 479.1 L1508.5 478.3 L1516.0 474.3 L1519.0 470.8" stroke="#14141f" stroke-width="2.2" stroke-dasharray="50 30 90 24" opacity=".8"/>
<path d="M174.0 14.2 L200.0 30.7 L230.0 44.9 L245.0 50.2 L257.0 52.4 L275.0 59.9 L305.0 72.7 L335.0 86.2 L365.0 99.7 L395.0 111.7 L430.0 128.9 L460.0 143.2 L482.5 154.5 L502.0 158.2 L520.0 167.2 L535.0 177.0 L565.0 188.2 L595.0 200.2 L610.0 209.2 L617.5 213.7 L640.0 220.2 L675.0 238.7 L705.0 251.5 L735.0 263.4 L765.0 274.7 L792.0 286.7 L802.5 288.2 L825.0 298.7 L855.0 310.7 L870.0 316.7 L890.0 329.4 L920.0 340.7 L950.0 350.4 L980.0 360.2 L1010.0 369.2 L1040.0 377.4 L1070.0 384.2 L1095.0 389.5 L1120.0 399.2 L1150.0 406.7 L1180.0 413.4 L1210.0 420.9 L1240.0 428.4 L1270.0 435.9 L1300.0 443.7 L1330.0 449.2 L1360.0 455.7 L1420.0 464.7 L1465.0 472.9 L1495.0 475.9 L1508.5 475.2 L1516.0 471.2 L1519.0 467.7" stroke="url(#aw)" stroke-width="3"/>
<path d="M174.0 17.0 L200.0 33.5 L230.0 47.8 L245.0 53.0 L257.0 55.2 L275.0 62.8 L305.0 75.5 L335.0 89.0 L365.0 102.5 L395.0 114.5 L430.0 131.8 L460.0 146.0 L482.5 157.2 L502.0 161.0 L520.0 170.0 L535.0 179.8 L565.0 191.0 L595.0 203.0 L610.0 212.0 L617.5 216.5 L640.0 223.0 L675.0 241.5 L705.0 254.2 L735.0 266.2 L765.0 277.5 L792.0 289.5 L802.5 291.0 L825.0 301.5 L855.0 313.5 L870.0 319.5 L890.0 332.2 L920.0 343.5 L950.0 353.2 L980.0 363.0 L1010.0 372.0 L1040.0 380.2 L1070.0 387.0 L1095.0 392.3 L1120.0 402.0 L1150.0 409.5 L1180.0 416.2 L1210.0 423.8 L1240.0 431.2 L1270.0 438.8 L1300.0 446.5 L1330.0 452.0 L1360.0 458.5 L1420.0 467.5 L1465.0 475.8 L1495.0 478.8 L1508.5 478.0 L1516.0 474.0 L1519.0 470.5" stroke="url(#ak)" stroke-width="2.4"/>
<path d="M174.0 19.5 L200.0 36.0 L230.0 50.2 L245.0 55.5 L257.0 57.8 L275.0 65.2 L305.0 78.0 L335.0 91.5 L365.0 105.0 L395.0 117.0 L430.0 134.2 L460.0 148.5 L482.5 159.8 L502.0 163.5 L520.0 172.5 L535.0 182.2 L565.0 193.5 L595.0 205.5 L610.0 214.5 L617.5 219.0 L640.0 225.5 L675.0 244.0 L705.0 256.8 L735.0 268.8 L765.0 280.0 L792.0 292.0 L802.5 293.5 L825.0 304.0 L855.0 316.0 L870.0 322.0 L890.0 334.8 L920.0 346.0 L950.0 355.8 L980.0 365.5 L1010.0 374.5 L1040.0 382.8 L1070.0 389.5 L1095.0 394.8 L1120.0 404.5 L1150.0 412.0 L1180.0 418.8 L1210.0 426.2 L1240.0 433.8 L1270.0 441.2 L1300.0 449.0 L1330.0 454.5 L1360.0 461.0 L1420.0 470.0 L1465.0 478.2 L1495.0 481.2 L1508.5 480.5 L1516.0 476.5 L1519.0 473.0" stroke="url(#aw)" stroke-width="2.4" opacity=".9"/>
<path d="M174.0 21.9 L200.0 38.4 L230.0 52.6 L245.0 57.9 L257.0 60.1 L275.0 67.6 L305.0 80.4 L335.0 93.9 L365.0 107.4 L395.0 119.4 L430.0 136.7 L460.0 150.9 L482.5 162.2 L502.0 165.9 L520.0 174.9 L535.0 184.7 L565.0 195.9 L595.0 207.9 L610.0 216.9 L617.5 221.4 L640.0 227.9 L675.0 246.4 L705.0 259.2 L735.0 271.2 L765.0 282.4 L792.0 294.4 L802.5 295.9 L825.0 306.4 L855.0 318.4 L870.0 324.4 L890.0 337.2 L920.0 348.4 L950.0 358.2 L980.0 367.9 L1010.0 376.9 L1040.0 385.2 L1070.0 391.9 L1095.0 397.2 L1120.0 406.9 L1150.0 414.4 L1180.0 421.2 L1210.0 428.7 L1240.0 436.2 L1270.0 443.7 L1300.0 451.4 L1330.0 456.9 L1360.0 463.4 L1420.0 472.4 L1465.0 480.7 L1495.0 483.7 L1508.5 482.9 L1516.0 478.9 L1519.0 475.4" stroke="url(#ak)" stroke-width="2" opacity=".7" stroke-dasharray="120 30 60 20"/>
<path d="M174.0 24.2 L200.0 40.7 L230.0 54.9 L245.0 60.2 L257.0 62.4 L275.0 69.9 L305.0 82.7 L335.0 96.2 L365.0 109.7 L395.0 121.7 L430.0 138.9 L460.0 153.2 L482.5 164.5 L502.0 168.2 L520.0 177.2 L535.0 187.0 L565.0 198.2 L595.0 210.2 L610.0 219.2 L617.5 223.7 L640.0 230.2 L675.0 248.7 L705.0 261.4 L735.0 273.4 L765.0 284.7 L792.0 296.7 L802.5 298.2 L825.0 308.7 L855.0 320.7 L870.0 326.7 L890.0 339.4 L920.0 350.7 L950.0 360.4 L980.0 370.2 L1010.0 379.2 L1040.0 387.4 L1070.0 394.2 L1095.0 399.5 L1120.0 409.2 L1150.0 416.7 L1180.0 423.4 L1210.0 430.9 L1240.0 438.4 L1270.0 445.9 L1300.0 453.7 L1330.0 459.2 L1360.0 465.7 L1420.0 474.7 L1465.0 482.9 L1495.0 485.9 L1508.5 485.2 L1516.0 481.2 L1519.0 477.7" stroke="url(#aw)" stroke-width="2" opacity=".6" stroke-dasharray="60 40 100 30"/>
</g>
<path d="M174.0 9.4 L200.0 25.9 L230.0 40.1 L245.0 45.4 L257.0 47.6 L275.0 55.1 L305.0 67.9 L335.0 81.4 L365.0 94.9 L395.0 106.9 L430.0 124.1 L460.0 138.4 L482.5 149.7 L502.0 153.4 L520.0 162.4 L535.0 172.2 L565.0 183.4 L595.0 195.4 L610.0 204.4 L617.5 208.9 L640.0 215.4 L675.0 233.9 L705.0 246.7 L735.0 258.7 L765.0 269.9 L792.0 281.9 L802.5 283.4 L825.0 293.9 L855.0 305.9 L870.0 311.9 L890.0 324.7 L920.0 335.9 L950.0 345.7 L980.0 355.4 L1010.0 364.4 L1040.0 372.7 L1070.0 379.4 L1095.0 384.7 L1120.0 394.4 L1150.0 401.9 L1180.0 408.7 L1210.0 416.2 L1240.0 423.7 L1270.0 431.2 L1300.0 438.9 L1330.0 444.4 L1360.0 450.9 L1420.0 459.9 L1465.0 468.2 L1495.0 471.2 L1508.5 470.4 L1516.0 466.4 L1519.0 462.9" fill="none" stroke="url(#ak)" stroke-width="5"/>
</g>
<path d="M174.0 9.0 L200.0 25.5 L230.0 39.8 L245.0 45.0 L257.0 47.2 L275.0 54.8 L305.0 67.5 L335.0 81.0 L365.0 94.5 L395.0 106.5 L430.0 123.8 L460.0 138.0 L482.5 149.2 L502.0 153.0 L520.0 162.0 L535.0 171.8 L565.0 183.0 L595.0 195.0 L610.0 204.0 L617.5 208.5 L640.0 215.0 L675.0 233.5 L705.0 246.2 L735.0 258.2 L765.0 269.5 L792.0 281.5 L802.5 283.0 L825.0 293.5 L855.0 305.5 L870.0 311.5 L890.0 324.2 L920.0 335.5 L950.0 345.2 L980.0 355.0 L1010.0 364.0 L1040.0 372.2 L1070.0 379.0 L1095.0 384.3 L1120.0 394.0 L1150.0 401.5 L1180.0 408.2 L1210.0 415.8 L1240.0 423.2 L1270.0 430.8 L1300.0 438.5 L1330.0 444.0 L1360.0 450.5 L1420.0 459.5 L1465.0 467.8 L1495.0 470.8 L1508.5 470.0 L1516.0 466.0 L1519.0 462.5" fill="none" stroke="#000" stroke-width="3.6" stroke-linejoin="round"/>
<rect x="141" y="685.5" width="750" height="444.5" fill="#717d95"/>
<g clip-path="url(#cb)"><g clip-path="url(#cb0)"><rect x="141.00" y="732.5" width="445.00" height="596.0" transform="translate(0 -47)" fill="url(#gb0)" filter="url(#fb0)"/></g><g clip-path="url(#cb1)"><rect x="446.00" y="604.5" width="445.00" height="724.0" transform="translate(0 81)" fill="url(#gb1)" filter="url(#fb1)"/></g></g>
<g clip-path="url(#cb)"><g fill="none" filter="url(#wob)">
<path d="M141.0 697.8 L167.5 702.8 L192.5 707.8 L215.0 709.5 L230.0 715.8 L255.0 728.3 L280.0 740.8 L305.0 754.5 L330.0 767.8 L355.0 779.5 L380.0 790.8 L405.0 799.5 L430.0 812.0 L455.0 828.3 L480.0 842.0 L505.0 854.5 L525.0 864.5 L550.0 877.8 L575.0 888.3 L600.0 897.0 L625.0 904.0 L650.0 910.8 L675.0 916.5 L700.0 922.0 L725.0 927.0 L750.0 931.3 L762.5 932.8 L775.0 932.0 L800.0 934.5 L825.0 938.3 L850.0 943.8 L875.0 950.8 L891.0 955.3" stroke="#e4f2f2" stroke-width="2.8" opacity=".7"/>
<path d="M141.0 698.0 L167.5 703.0 L192.5 708.0 L215.0 709.8 L230.0 716.0 L255.0 728.5 L280.0 741.0 L305.0 754.8 L330.0 768.0 L355.0 779.8 L380.0 791.0 L405.0 799.8 L430.0 812.2 L455.0 828.5 L480.0 842.2 L505.0 854.8 L525.0 864.8 L550.0 878.0 L575.0 888.5 L600.0 897.2 L625.0 904.2 L650.0 911.0 L675.0 916.8 L700.0 922.2 L725.0 927.2 L750.0 931.5 L762.5 933.0 L775.0 932.2 L800.0 934.8 L825.0 938.5 L850.0 944.0 L875.0 951.0 L891.0 955.5" stroke="#f4fbfb" stroke-width="3.4" stroke-dasharray="60 22 34 15 90 30 25 12"/>
<path d="M141.0 701.4 L167.5 706.4 L192.5 711.4 L215.0 713.1 L230.0 719.4 L255.0 731.9 L280.0 744.4 L305.0 758.1 L330.0 771.4 L355.0 783.1 L380.0 794.4 L405.0 803.1 L430.0 815.6 L455.0 831.9 L480.0 845.6 L505.0 858.1 L525.0 868.1 L550.0 881.4 L575.0 891.9 L600.0 900.6 L625.0 907.6 L650.0 914.4 L675.0 920.1 L700.0 925.6 L725.0 930.6 L750.0 934.9 L762.5 936.4 L775.0 935.6 L800.0 938.1 L825.0 941.9 L850.0 947.4 L875.0 954.4 L891.0 958.9" stroke="#14141f" stroke-width="2.2" opacity=".55"/>
<path d="M141.0 701.5 L167.5 706.5 L192.5 711.5 L215.0 713.2 L230.0 719.5 L255.0 732.0 L280.0 744.5 L305.0 758.2 L330.0 771.5 L355.0 783.2 L380.0 794.5 L405.0 803.2 L430.0 815.8 L455.0 832.0 L480.0 845.8 L505.0 858.2 L525.0 868.2 L550.0 881.5 L575.0 892.0 L600.0 900.8 L625.0 907.8 L650.0 914.5 L675.0 920.2 L700.0 925.8 L725.0 930.8 L750.0 935.0 L762.5 936.5 L775.0 935.8 L800.0 938.2 L825.0 942.0 L850.0 947.5 L875.0 954.5 L891.0 959.0" stroke="#0a0a12" stroke-width="2.6" stroke-dasharray="44 17 70 24 30 16" opacity=".85"/>
<path d="M141.0 705.0 L167.5 710.0 L192.5 715.0 L215.0 716.8 L230.0 723.0 L255.0 735.5 L280.0 748.0 L305.0 761.8 L330.0 775.0 L355.0 786.8 L380.0 798.0 L405.0 806.8 L430.0 819.2 L455.0 835.5 L480.0 849.2 L505.0 861.8 L525.0 871.8 L550.0 885.0 L575.0 895.5 L600.0 904.2 L625.0 911.2 L650.0 918.0 L675.0 923.8 L700.0 929.2 L725.0 934.2 L750.0 938.5 L762.5 940.0 L775.0 939.2 L800.0 941.8 L825.0 945.5 L850.0 951.0 L875.0 958.0 L891.0 962.5" stroke="#cfe2e4" stroke-width="2" stroke-dasharray="30 14 52 20" opacity=".5"/>
<path d="M141.0 699.1 L167.5 704.1 L192.5 709.1 L215.0 710.9 L230.0 717.1 L255.0 729.6 L280.0 742.1 L305.0 755.9 L330.0 769.1 L355.0 780.9 L380.0 792.1 L405.0 800.9 L430.0 813.4 L455.0 829.6 L480.0 843.4 L505.0 855.9 L525.0 865.9 L550.0 879.1 L575.0 889.6 L600.0 898.4 L625.0 905.4 L650.0 912.1 L675.0 917.9 L700.0 923.4 L725.0 928.4 L750.0 932.6 L762.5 934.1 L775.0 933.4 L800.0 935.9 L825.0 939.6 L850.0 945.1 L875.0 952.1 L891.0 956.6" stroke="url(#bw)" stroke-width="4.6"/>
<path d="M141.0 703.3 L167.5 708.3 L192.5 713.3 L215.0 715.0 L230.0 721.3 L255.0 733.8 L280.0 746.3 L305.0 760.0 L330.0 773.3 L355.0 785.0 L380.0 796.3 L405.0 805.0 L430.0 817.5 L455.0 833.8 L480.0 847.5 L505.0 860.0 L525.0 870.0 L550.0 883.3 L575.0 893.8 L600.0 902.5 L625.0 909.5 L650.0 916.3 L675.0 922.0 L700.0 927.5 L725.0 932.5 L750.0 936.8 L762.5 938.3 L775.0 937.5 L800.0 940.0 L825.0 943.8 L850.0 949.3 L875.0 956.3 L891.0 960.8" stroke="url(#bk)" stroke-width="3.6"/>
<path d="M141.0 706.3 L167.5 711.3 L192.5 716.3 L215.0 718.0 L230.0 724.3 L255.0 736.8 L280.0 749.3 L305.0 763.0 L330.0 776.3 L355.0 788.0 L380.0 799.3 L405.0 808.0 L430.0 820.5 L455.0 836.8 L480.0 850.5 L505.0 863.0 L525.0 873.0 L550.0 886.3 L575.0 896.8 L600.0 905.5 L625.0 912.5 L650.0 919.3 L675.0 925.0 L700.0 930.5 L725.0 935.5 L750.0 939.8 L762.5 941.3 L775.0 940.5 L800.0 943.0 L825.0 946.8 L850.0 952.3 L875.0 959.3 L891.0 963.8" stroke="url(#bw)" stroke-width="2.2" opacity=".6"/>
<path d="M598.0 1063.0 L620.0 1062.0 L644.0 1061.0 L695.0 1061.0 L721.0 1057.5 L746.5 1053.5 L772.0 1050.0 L797.7 1049.7 L823.0 1051.8 L849.0 1057.5 L874.6 1063.8 L891.0 1066.5" stroke="url(#rk)" stroke-width="4.6"/>
<path d="M598.0 1067.8 L620.0 1066.8 L644.0 1065.8 L695.0 1065.8 L721.0 1062.3 L746.5 1058.3 L772.0 1054.8 L797.7 1054.5 L823.0 1056.6 L849.0 1062.3 L874.6 1068.6 L891.0 1071.3" stroke="url(#rw)" stroke-width="4.6"/>
<path d="M598.0 1072.0 L620.0 1071.0 L644.0 1070.0 L695.0 1070.0 L721.0 1066.5 L746.5 1062.5 L772.0 1059.0 L797.7 1058.7 L823.0 1060.8 L849.0 1066.5 L874.6 1072.8 L891.0 1075.5" stroke="url(#rk)" stroke-width="3.2"/>
<path d="M598.0 1076.0 L620.0 1075.0 L644.0 1074.0 L695.0 1074.0 L721.0 1070.5 L746.5 1066.5 L772.0 1063.0 L797.7 1062.7 L823.0 1064.8 L849.0 1070.5 L874.6 1076.8 L891.0 1079.5" stroke="#e8f4f4" stroke-width="3" stroke-dasharray="70 400" opacity=".9"/>
</g></g>
<path d="M141.0 690.8 L167.5 695.8 L192.5 700.8 L215.0 702.5 L230.0 708.8 L255.0 721.3 L280.0 733.8 L305.0 747.5 L330.0 760.8 L355.0 772.5 L380.0 783.8 L405.0 792.5 L430.0 805.0 L455.0 821.3 L480.0 835.0 L505.0 847.5 L525.0 857.5 L550.0 870.8 L575.0 881.3 L600.0 890.0 L625.0 897.0 L650.0 903.8 L675.0 909.5 L700.0 915.0 L725.0 920.0 L750.0 924.3 L762.5 925.8 L775.0 925.0 L800.0 927.5 L825.0 931.3 L850.0 936.8 L875.0 943.8 L891.0 948.3" fill="none" stroke="#000" stroke-width="3.7"/>
<rect x="1042.5" y="684" width="497.0" height="460.5" fill="#717d95"/>
<g clip-path="url(#cc)"><rect x="1042.50" y="684" width="497.00" height="630.9000000000001" transform="translate(0 0)" fill="url(#gc0)" filter="url(#fc0)"/></g>
<g clip-path="url(#cc)"><g fill="none" filter="url(#soft)" stroke-linejoin="round">
<path d="M1274.0 975.5 L1310.0 980.5 L1322.0 983.0 L1339.0 977.0 L1355.0 984.0 L1372.0 979.5 L1388.0 976.5 L1404.0 989.0 L1420.0 991.5 L1440.0 996.5 L1458.0 999.5" stroke="url(#cw2)" stroke-width="10" opacity=".7"/>
<path d="M1274.0 986.5 L1310.0 991.5 L1322.0 994.0 L1339.0 988.0 L1355.0 995.0 L1372.0 990.5 L1388.0 987.5 L1404.0 1000.0 L1420.0 1002.5 L1440.0 1007.5 L1458.0 1010.5" stroke="url(#ck1)" stroke-width="15"/>
<path d="M1274.0 998.0 L1310.0 1003.0 L1322.0 1005.5 L1339.0 999.5 L1355.0 1006.5 L1372.0 1002.0 L1388.0 999.0 L1404.0 1011.5 L1420.0 1014.0 L1440.0 1019.0 L1458.0 1022.0" stroke="url(#cw1)" stroke-width="9.5"/>
<path d="M1274.0 1009.5 L1310.0 1014.5 L1322.0 1017.0 L1339.0 1011.0 L1355.0 1018.0 L1372.0 1013.5 L1388.0 1010.5 L1404.0 1023.0 L1420.0 1025.5 L1440.0 1030.5 L1458.0 1033.5" stroke="url(#ck2)" stroke-width="14"/>
<path d="M1274.0 1019.5 L1310.0 1024.5 L1322.0 1027.0 L1339.0 1021.0 L1355.0 1028.0 L1372.0 1023.5 L1388.0 1020.5 L1404.0 1033.0 L1420.0 1035.5 L1440.0 1040.5 L1458.0 1043.5" stroke="url(#cw2)" stroke-width="9" opacity=".5"/>
</g></g>
<path d="M1042.5 686.1 L1049.0 693.5 L1056.2 700.7 L1068.0 709.0 L1080.6 716.2 L1093.0 720.0 L1105.0 722.7 L1118.0 727.5 L1131.0 733.2 L1142.0 740.5 L1153.7 747.1 L1166.0 751.5 L1178.1 756.8 L1190.0 763.0 L1202.5 768.2 L1217.0 774.0 L1231.7 781.2 L1241.0 787.0 L1251.2 795.0 L1259.0 802.0 L1267.5 810.4 L1280.0 822.2 L1296.2 834.4 L1312.5 848.2 L1328.7 856.3 L1345.0 865.2 L1364.5 874.2 L1385.6 876.6 L1408.4 879.1 L1418.1 884.7 L1426.2 886.4 L1436.0 884.7 L1450.6 875.8 L1466.9 866.9 L1486.4 861.2 L1507.5 860.7 L1523.7 862.0 L1539.5 862.8" fill="none" stroke="#000" stroke-width="1.8"/>
<rect x="184.5" y="1296.5" width="1365.0" height="580.0" fill="#717d95"/>
<g clip-path="url(#cd)"><rect x="184.50" y="1296.5" width="1365.00" height="732.8" transform="translate(0 0)" fill="url(#gd0)" filter="url(#fd0)"/></g>
<path d="M184.5 1297.7 L227.5 1297.7 L251.5 1307.0 L274.0 1317.5 L289.0 1325.5 L301.0 1326.8 L319.0 1337.0 L334.0 1342.2 L356.5 1345.5 L371.5 1352.0 L394.0 1364.0 L409.0 1367.5 L420.0 1369.1 L429.0 1367.9 L450.0 1373.0 L480.0 1380.5 L510.0 1385.0 L540.0 1392.5 L570.0 1400.9 L600.0 1406.0 L630.0 1410.5 L660.0 1410.5 L670.0 1413.5 L694.0 1415.0 L715.0 1412.9 L749.5 1409.9" fill="none" stroke="#000" stroke-width="2"/>
<path d="M767.5 1410.5 L790.0 1412.0 L820.0 1413.5 L850.0 1410.5 L880.0 1406.0 L910.0 1400.0 L940.0 1394.0 L970.0 1388.0 L988.0 1379.0 L1015.0 1380.5 L1030.0 1384.1 L1060.0 1382.0 L1081.0 1385.0 L1099.0 1395.5 L1121.0 1415.0 L1160.0 1418.0 L1190.0 1413.5 L1220.0 1409.0 L1232.0 1400.0 L1256.0 1403.9 L1280.0 1403.0 L1307.0 1399.1 L1328.0 1406.0 L1355.0 1415.0 L1376.0 1434.5 L1400.0 1448.0 L1418.0 1454.9 L1439.0 1451.0 L1454.0 1454.9 L1464.5 1463.0 L1484.0 1452.5 L1505.0 1440.5 L1526.0 1436.0 L1549.5 1431.5" fill="none" stroke="#000" stroke-width="2"/>
<rect x="749.5" y="1296.5" width="18" height="580.0" fill="#717d95"/>
<rect x="174" y="3" width="1345" height="535" fill="none" stroke="#4a546a" stroke-width="1" opacity=".8"/>
<rect x="141" y="685.5" width="750" height="444.5" fill="none" stroke="#4a546a" stroke-width="1" opacity=".8"/>
<rect x="1042.5" y="684" width="497.0" height="460.5" fill="none" stroke="#4a546a" stroke-width="1" opacity=".8"/>
<rect x="184.5" y="1296.5" width="1365.0" height="580.0" fill="none" stroke="#4a546a" stroke-width="1" opacity=".8"/>
<path d="M273.0 289.7 L285.4 310.7 L260.6 310.7 Z" fill="#231f20"/><path d="M273.0 309.7 V347.0" stroke="#231f20" stroke-width="2.3"/>
<path d="M752.5 395.0 L764.9 416.0 L740.1 416.0 Z" fill="#231f20"/><path d="M752.5 415.0 V451.5" stroke="#231f20" stroke-width="2.3"/>
<path d="M1311.5 503.5 L1323.9 524.5 L1299.1 524.5 Z" fill="#231f20"/><path d="M1311.5 523.5 V560.0" stroke="#231f20" stroke-width="2.3"/>
<path d="M213.3 824.0 L225.7 845.0 L200.9 845.0 Z" fill="#fff"/><path d="M213.3 844.0 V868.0" stroke="#fff" stroke-width="2.3"/>
<path d="M377.8 935.0 L390.2 956.0 L365.4 956.0 Z" fill="#fff"/><path d="M377.8 955.0 V980.0" stroke="#fff" stroke-width="2.3"/>
<path d="M494.5 982.0 L506.9 1003.0 L482.1 1003.0 Z" fill="#fff"/><path d="M494.5 1002.0 V1026.0" stroke="#fff" stroke-width="2.3"/>
<path d="M678.5 1074.0 L690.9 1095.0 L666.1 1095.0 Z" fill="#231f20"/><path d="M678.5 1094.0 V1120.0" stroke="#231f20" stroke-width="2.3"/>
<path d="M860.8 1074.0 L873.2 1095.0 L848.4 1095.0 Z" fill="#231f20"/><path d="M860.8 1094.0 V1120.0" stroke="#231f20" stroke-width="2.3"/>
<path d="M1112.0 887.5 L1124.4 908.5 L1099.6 908.5 Z" fill="#fff"/><path d="M1112.0 907.5 V934.5" stroke="#fff" stroke-width="2.3"/>
<path d="M1209.0 968.5 L1221.4 989.5 L1196.6 989.5 Z" fill="#fff"/><path d="M1209.0 988.5 V1015.0" stroke="#fff" stroke-width="2.3"/>
<path d="M1410.5 1027.5 L1422.9 1048.5 L1398.1 1048.5 Z" fill="#231f20"/><path d="M1410.5 1047.5 V1073.0" stroke="#231f20" stroke-width="2.3"/>
<path d="M362.5 1447.5 L374.9 1468.5 L350.1 1468.5 Z" fill="#231f20"/><path d="M362.5 1467.5 V1504.0" stroke="#231f20" stroke-width="2.3"/>
<path d="M419.0 1530.0 L431.4 1551.0 L406.6 1551.0 Z" fill="#231f20"/><path d="M419.0 1550.0 V1587.5" stroke="#231f20" stroke-width="2.3"/>
<path d="M610.0 1692.5 L622.4 1713.5 L597.6 1713.5 Z" fill="#231f20"/><path d="M610.0 1712.5 V1750.0" stroke="#231f20" stroke-width="2.3"/>
<path d="M902.5 1717.5 L914.9 1738.5 L890.1 1738.5 Z" fill="#231f20"/><path d="M902.5 1737.5 V1774.0" stroke="#231f20" stroke-width="2.3"/>
<path d="M1084.0 1632.5 L1096.4 1653.5 L1071.6 1653.5 Z" fill="#231f20"/><path d="M1084.0 1652.5 V1690.0" stroke="#231f20" stroke-width="2.3"/>
<path d="M1238.5 1670.0 L1250.9 1691.0 L1226.1 1691.0 Z" fill="#231f20"/><path d="M1238.5 1690.0 V1729.0" stroke="#231f20" stroke-width="2.3"/>
<path d="M1377.5 1632.5 L1389.9 1653.5 L1365.1 1653.5 Z" fill="#231f20"/><path d="M1377.5 1652.5 V1690.0" stroke="#231f20" stroke-width="2.3"/>
<text x="162.6" y="91.0" font-size="38.2" text-anchor="end">3140</text>
<text x="162.6" y="206.3" font-size="38.2" text-anchor="end">3130</text>
<text x="162.6" y="321.6" font-size="38.2" text-anchor="end">3120</text>
<text x="162.6" y="436.9" font-size="38.2" text-anchor="end">3110</text>
<text x="162.6" y="552.2" font-size="38.2" text-anchor="end">3100</text>
<text x="174.1" y="587.2" font-size="38.2" text-anchor="middle">0</text>
<text x="308.6" y="587.2" font-size="38.2" text-anchor="middle">10</text>
<text x="443.1" y="587.2" font-size="38.2" text-anchor="middle">20</text>
<text x="577.6" y="587.2" font-size="38.2" text-anchor="middle">30</text>
<text x="712.1" y="587.2" font-size="38.2" text-anchor="middle">40</text>
<text x="846.6" y="587.2" font-size="38.2" text-anchor="middle">50</text>
<text x="981.1" y="587.2" font-size="38.2" text-anchor="middle">60</text>
<text x="1115.6" y="587.2" font-size="38.2" text-anchor="middle">70</text>
<text x="1250.1" y="587.2" font-size="38.2" text-anchor="middle">80</text>
<text x="1384.6" y="587.2" font-size="38.2" text-anchor="middle">90</text>
<text x="1519.1" y="587.2" font-size="38.2" text-anchor="middle">100</text>
<text transform="translate(60.8 270.2) rotate(-90)" font-size="56.0" text-anchor="middle">Elevation (m)</text>
<text x="846.9" y="651.3" font-size="56.8" text-anchor="middle">Horizontal Position (m)</text>
<text transform="translate(1459.4 70.3) scale(0.94 1)" font-size="55.5" text-anchor="middle">(a)</text>
<circle cx="146.6" cy="624.8" r="33.6" fill="#fff" stroke="#1a1a1a" stroke-width="4.2"/>
<text x="146.6" y="641.5" font-size="46.8" text-anchor="middle">1</text>
<circle cx="1554.9" cy="627.9" r="33.6" fill="#fff" stroke="#1a1a1a" stroke-width="4.2"/>
<text x="1554.9" y="644.7" font-size="46.8" text-anchor="middle">2</text>
<text x="130.6" y="757.6" font-size="33.8" text-anchor="end">3040</text>
<text x="130.6" y="854.1" font-size="33.8" text-anchor="end">3030</text>
<text x="130.6" y="950.5" font-size="33.8" text-anchor="end">3020</text>
<text x="130.6" y="1047.0" font-size="33.8" text-anchor="end">3010</text>
<text x="130.6" y="1143.4" font-size="33.8" text-anchor="end">3000</text>
<text x="141.2" y="1173.1" font-size="33.8" text-anchor="middle">0</text>
<text x="292.2" y="1173.1" font-size="33.8" text-anchor="middle">20</text>
<text x="443.2" y="1173.1" font-size="33.8" text-anchor="middle">40</text>
<text x="594.2" y="1173.1" font-size="33.8" text-anchor="middle">60</text>
<text x="745.2" y="1173.1" font-size="33.8" text-anchor="middle">80</text>
<text transform="translate(40.5 908.9) rotate(-90)" font-size="48.4" text-anchor="middle">Elevation (m)</text>
<text x="516.8" y="1230.6" font-size="50.4" text-anchor="middle">Horizontal Position (m)</text>
<text transform="translate(833.1 754.3) scale(1.03 1)" font-size="55.5" text-anchor="middle">(b)</text>
<circle cx="121.4" cy="1215.6" r="33.6" fill="#fff" stroke="#1a1a1a" stroke-width="4.2"/>
<text x="121.4" y="1232.4" font-size="46.8" text-anchor="middle">3</text>
<text x="1031.6" y="697.4" font-size="28.6" text-anchor="end">3018</text>
<text x="1031.6" y="789.5" font-size="28.6" text-anchor="end">3016</text>
<text x="1031.6" y="881.6" font-size="28.6" text-anchor="end">3014</text>
<text x="1031.6" y="973.7" font-size="28.6" text-anchor="end">3012</text>
<text x="1031.6" y="1065.8" font-size="28.6" text-anchor="end">3010</text>
<text x="1031.6" y="1157.9" font-size="28.6" text-anchor="end">3008</text>
<text x="1042.3" y="1181.7" font-size="28.6" text-anchor="middle">0</text>
<text x="1135.6" y="1181.7" font-size="28.6" text-anchor="middle">5</text>
<text x="1228.9" y="1181.7" font-size="28.6" text-anchor="middle">10</text>
<text x="1322.2" y="1181.7" font-size="28.6" text-anchor="middle">15</text>
<text x="1415.5" y="1181.7" font-size="28.6" text-anchor="middle">20</text>
<text x="1508.8" y="1181.7" font-size="28.6" text-anchor="middle">25</text>
<text transform="translate(954.6 914.5) rotate(-90)" font-size="42.2" text-anchor="middle">Elevation (m)</text>
<text x="1290.8" y="1231.2" font-size="43.1" text-anchor="middle">Horizontal Position (m)</text>
<text transform="translate(1493.8 754.0) scale(0.92 1)" font-size="55.5" text-anchor="middle">(c)</text>
<circle cx="1555.3" cy="1224.2" r="33.6" fill="#fff" stroke="#1a1a1a" stroke-width="4.2"/>
<text x="1555.3" y="1241.0" font-size="46.8" text-anchor="middle">4</text>
<text x="170.6" y="1318.4" font-size="35.5" text-anchor="end">3015</text>
<text x="170.6" y="1462.1" font-size="35.5" text-anchor="end">3010</text>
<text x="170.6" y="1605.8" font-size="35.5" text-anchor="end">3005</text>
<text x="170.6" y="1749.5" font-size="35.5" text-anchor="end">3000</text>
<text x="170.6" y="1893.2" font-size="35.5" text-anchor="end">2995</text>
<text x="185.4" y="1925.3" font-size="35.5" text-anchor="middle">0</text>
<text x="322.2" y="1925.3" font-size="35.5" text-anchor="middle">10</text>
<text x="459.1" y="1925.3" font-size="35.5" text-anchor="middle">20</text>
<text x="595.9" y="1925.3" font-size="35.5" text-anchor="middle">30</text>
<text x="732.8" y="1925.3" font-size="35.5" text-anchor="middle">40</text>
<text x="869.6" y="1925.3" font-size="35.5" text-anchor="middle">50</text>
<text x="1006.5" y="1925.3" font-size="35.5" text-anchor="middle">60</text>
<text x="1143.3" y="1925.3" font-size="35.5" text-anchor="middle">70</text>
<text x="1280.2" y="1925.3" font-size="35.5" text-anchor="middle">80</text>
<text x="1417.0" y="1925.3" font-size="35.5" text-anchor="middle">90</text>
<text transform="translate(76.2 1586.0) rotate(-90)" font-size="52.7" text-anchor="middle">Elevation (m)</text>
<text x="868.9" y="1984.0" font-size="53.8" text-anchor="middle">Horizontal Position (m)</text>
<text transform="translate(1501.2 1361.0) scale(1.03 1)" font-size="55.5" text-anchor="middle">(d)</text>
<circle cx="144.4" cy="1959.9" r="33.6" fill="#fff" stroke="#1a1a1a" stroke-width="4.2"/>
<text x="144.4" y="1976.7" font-size="46.8" text-anchor="middle">5</text>
<circle cx="1560.6" cy="1959.3" r="33.6" fill="#fff" stroke="#1a1a1a" stroke-width="4.2"/>
<text x="1560.6" y="1976.1" font-size="46.8" text-anchor="middle">6</text>
</svg></body></html>
